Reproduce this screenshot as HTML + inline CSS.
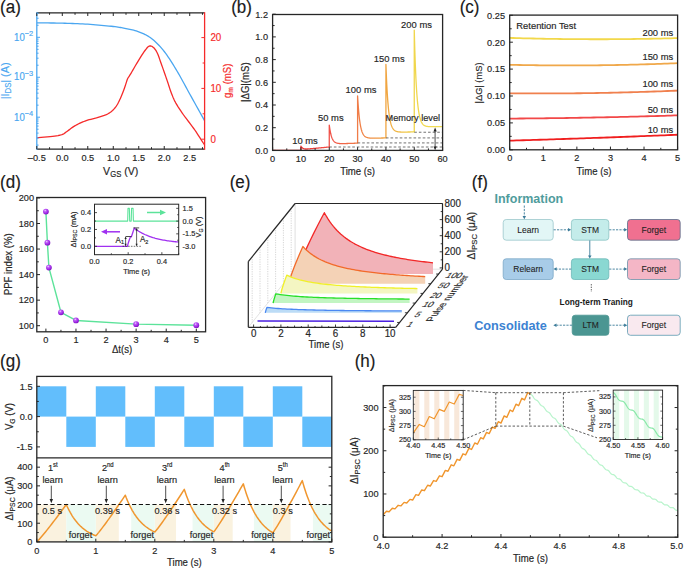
<!DOCTYPE html><html><head><meta charset="utf-8"><style>html,body{margin:0;padding:0;background:#fff;}svg{display:block;}</style></head><body>
<svg width="685" height="569" viewBox="0 0 685 569" font-family="Liberation Sans, sans-serif">
<rect width="685" height="569" fill="#fff"/>
<text x="0" y="0" font-size="17" text-anchor="start" fill="#1a1a1a"  stroke="#1a1a1a" stroke-width="0.16" transform="translate(0.10,12.80) scale(1,1.06)">(a)</text>
<defs><clipPath id="ca"><rect x="36.8" y="12.8" width="167.8" height="136.4"/></clipPath></defs>
<g clip-path="url(#ca)">
<polyline points="36.81,22.80 38.33,22.82 40.28,22.84 42.59,22.87 45.17,22.90 47.96,22.94 50.88,22.98 53.85,23.02 56.80,23.08 59.64,23.13 62.30,23.20 64.85,23.27 67.40,23.34 69.95,23.41 72.49,23.49 75.04,23.58 77.59,23.68 80.14,23.79 82.69,23.91 85.24,24.04 87.78,24.20 90.39,24.38 93.09,24.58 95.83,24.80 98.59,25.04 101.32,25.28 103.99,25.53 106.56,25.78 108.99,26.03 111.24,26.27 113.27,26.50 115.06,26.71 116.63,26.92 118.03,27.11 119.28,27.30 120.44,27.49 121.53,27.69 122.59,27.90 123.67,28.11 124.80,28.35 126.01,28.60 127.29,28.86 128.56,29.11 129.84,29.37 131.11,29.63 132.38,29.91 133.66,30.22 134.93,30.55 136.21,30.92 137.48,31.33 138.75,31.80 140.03,32.30 141.30,32.82 142.58,33.35 143.85,33.93 145.13,34.54 146.40,35.20 147.67,35.92 148.95,36.70 150.22,37.56 151.50,38.50 152.77,39.52 154.05,40.59 155.32,41.73 156.59,42.93 157.87,44.20 159.14,45.53 160.42,46.92 161.69,48.38 162.97,49.91 164.24,51.50 165.51,53.17 166.79,54.93 168.06,56.76 169.34,58.66 170.61,60.62 171.89,62.64 173.16,64.69 174.43,66.77 175.71,68.88 176.98,71.00 178.25,73.14 179.49,75.30 180.72,77.50 181.96,79.73 183.19,82.00 184.44,84.31 185.71,86.66 187.01,89.06 188.35,91.50 189.72,94.00 191.22,96.69 192.86,99.65 194.61,102.79 196.39,106.00 198.17,109.19 199.88,112.26 201.47,115.13 202.90,117.69 204.09,119.84 205.02,121.50" fill="none" stroke="#4aa6f0" stroke-width="1.3" stroke-linejoin="round" />
<polyline points="36.80,137.80 38.59,137.64 41.13,137.42 44.11,137.16 47.22,136.87 50.15,136.58 52.60,136.30 54.59,136.04 56.39,135.79 58.00,135.54 59.46,135.26 60.79,134.96 62.00,134.60 63.02,134.21 63.80,133.80 64.45,133.36 65.07,132.87 65.75,132.32 66.60,131.70 67.63,130.96 68.76,130.11 69.95,129.20 71.18,128.28 72.41,127.39 73.60,126.60 74.77,125.89 75.93,125.23 77.10,124.60 78.27,124.01 79.43,123.44 80.60,122.90 81.73,122.39 82.80,121.93 83.88,121.49 85.01,121.07 86.23,120.64 87.60,120.20 89.17,119.74 90.90,119.29 92.74,118.83 94.60,118.36 96.41,117.89 98.10,117.40 99.70,116.91 101.28,116.41 102.81,115.91 104.27,115.40 105.64,114.86 106.90,114.30 108.03,113.73 109.04,113.15 109.97,112.55 110.83,111.92 111.67,111.24 112.50,110.50 113.32,109.71 114.10,108.89 114.85,108.01 115.58,107.08 116.29,106.08 117.00,105.00 117.70,103.82 118.39,102.56 119.06,101.22 119.72,99.83 120.37,98.42 121.00,97.00 121.62,95.55 122.23,94.06 122.83,92.53 123.40,91.00 123.96,89.48 124.50,88.00 125.02,86.48 125.54,84.91 126.03,83.34 126.50,81.87 126.92,80.56 127.30,79.50 127.60,78.75 127.84,78.27 128.03,77.95 128.22,77.70 128.43,77.42 128.70,77.00 128.98,76.55 129.23,76.16 129.50,75.74 129.85,75.19 130.33,74.41 131.00,73.30 131.89,71.77 132.99,69.87 134.21,67.74 135.49,65.52 136.78,63.33 138.00,61.30 139.20,59.36 140.43,57.38 141.66,55.43 142.85,53.59 143.98,51.92 145.00,50.50 145.90,49.31 146.69,48.30 147.42,47.46 148.11,46.80 148.79,46.31 149.50,46.00 150.24,45.89 150.97,45.99 151.70,46.26 152.42,46.68 153.12,47.20 153.80,47.80 154.46,48.49 155.09,49.29 155.71,50.20 156.32,51.21 156.91,52.31 157.50,53.50 158.07,54.81 158.63,56.26 159.18,57.79 159.72,59.38 160.26,60.96 160.80,62.50 161.33,63.98 161.85,65.43 162.37,66.88 162.89,68.35 163.43,69.88 164.00,71.50 164.60,73.22 165.23,75.02 165.87,76.88 166.52,78.76 167.17,80.64 167.80,82.50 168.42,84.35 169.02,86.23 169.62,88.11 170.23,89.96 170.86,91.77 171.50,93.50 172.13,95.11 172.73,96.62 173.34,98.07 174.01,99.55 174.78,101.10 175.70,102.80 176.77,104.64 177.96,106.59 179.26,108.61 180.64,110.69 182.09,112.83 183.60,115.00 185.20,117.21 186.91,119.46 188.69,121.76 190.50,124.12 192.32,126.53 194.10,129.00 195.97,131.74 197.99,134.78 200.01,137.88 201.88,140.78 203.46,143.24 204.60,145.00" fill="none" stroke="#f52a2a" stroke-width="1.3" stroke-linejoin="round" />
</g>
<line x1="36.80" y1="12.80" x2="204.60" y2="12.80" stroke="#262626" stroke-width="1.3" />
<line x1="36.80" y1="149.20" x2="204.60" y2="149.20" stroke="#262626" stroke-width="1.3" />
<line x1="36.80" y1="12.20" x2="36.80" y2="149.80" stroke="#4aa6f0" stroke-width="1.3" />
<line x1="204.60" y1="12.20" x2="204.60" y2="149.80" stroke="#f52a2a" stroke-width="1.3" />
<line x1="36.81" y1="149.20" x2="36.81" y2="146.00" stroke="#262626" stroke-width="1" />
<line x1="36.81" y1="12.80" x2="36.81" y2="16.00" stroke="#262626" stroke-width="1" />
<text x="0" y="0" font-size="9.2" text-anchor="middle" fill="#262626"  stroke="#262626" stroke-width="0.16" transform="translate(36.81,160.60) scale(1,1.06)">&#8211;0.5</text>
<line x1="49.56" y1="149.20" x2="49.56" y2="147.20" stroke="#262626" stroke-width="1" />
<line x1="49.56" y1="12.80" x2="49.56" y2="14.80" stroke="#262626" stroke-width="1" />
<line x1="62.30" y1="149.20" x2="62.30" y2="146.00" stroke="#262626" stroke-width="1" />
<line x1="62.30" y1="12.80" x2="62.30" y2="16.00" stroke="#262626" stroke-width="1" />
<text x="0" y="0" font-size="9.2" text-anchor="middle" fill="#262626"  stroke="#262626" stroke-width="0.16" transform="translate(62.30,160.60) scale(1,1.06)">0.0</text>
<line x1="75.04" y1="149.20" x2="75.04" y2="147.20" stroke="#262626" stroke-width="1" />
<line x1="75.04" y1="12.80" x2="75.04" y2="14.80" stroke="#262626" stroke-width="1" />
<line x1="87.78" y1="149.20" x2="87.78" y2="146.00" stroke="#262626" stroke-width="1" />
<line x1="87.78" y1="12.80" x2="87.78" y2="16.00" stroke="#262626" stroke-width="1" />
<text x="0" y="0" font-size="9.2" text-anchor="middle" fill="#262626"  stroke="#262626" stroke-width="0.16" transform="translate(87.78,160.60) scale(1,1.06)">0.5</text>
<line x1="100.53" y1="149.20" x2="100.53" y2="147.20" stroke="#262626" stroke-width="1" />
<line x1="100.53" y1="12.80" x2="100.53" y2="14.80" stroke="#262626" stroke-width="1" />
<line x1="113.27" y1="149.20" x2="113.27" y2="146.00" stroke="#262626" stroke-width="1" />
<line x1="113.27" y1="12.80" x2="113.27" y2="16.00" stroke="#262626" stroke-width="1" />
<text x="0" y="0" font-size="9.2" text-anchor="middle" fill="#262626"  stroke="#262626" stroke-width="0.16" transform="translate(113.27,160.60) scale(1,1.06)">1.0</text>
<line x1="126.01" y1="149.20" x2="126.01" y2="147.20" stroke="#262626" stroke-width="1" />
<line x1="126.01" y1="12.80" x2="126.01" y2="14.80" stroke="#262626" stroke-width="1" />
<line x1="138.75" y1="149.20" x2="138.75" y2="146.00" stroke="#262626" stroke-width="1" />
<line x1="138.75" y1="12.80" x2="138.75" y2="16.00" stroke="#262626" stroke-width="1" />
<text x="0" y="0" font-size="9.2" text-anchor="middle" fill="#262626"  stroke="#262626" stroke-width="0.16" transform="translate(138.75,160.60) scale(1,1.06)">1.5</text>
<line x1="151.50" y1="149.20" x2="151.50" y2="147.20" stroke="#262626" stroke-width="1" />
<line x1="151.50" y1="12.80" x2="151.50" y2="14.80" stroke="#262626" stroke-width="1" />
<line x1="164.24" y1="149.20" x2="164.24" y2="146.00" stroke="#262626" stroke-width="1" />
<line x1="164.24" y1="12.80" x2="164.24" y2="16.00" stroke="#262626" stroke-width="1" />
<text x="0" y="0" font-size="9.2" text-anchor="middle" fill="#262626"  stroke="#262626" stroke-width="0.16" transform="translate(164.24,160.60) scale(1,1.06)">2.0</text>
<line x1="176.98" y1="149.20" x2="176.98" y2="147.20" stroke="#262626" stroke-width="1" />
<line x1="176.98" y1="12.80" x2="176.98" y2="14.80" stroke="#262626" stroke-width="1" />
<line x1="189.72" y1="149.20" x2="189.72" y2="146.00" stroke="#262626" stroke-width="1" />
<line x1="189.72" y1="12.80" x2="189.72" y2="16.00" stroke="#262626" stroke-width="1" />
<text x="0" y="0" font-size="9.2" text-anchor="middle" fill="#262626"  stroke="#262626" stroke-width="0.16" transform="translate(189.72,160.60) scale(1,1.06)">2.5</text>
<line x1="202.47" y1="149.20" x2="202.47" y2="147.20" stroke="#262626" stroke-width="1" />
<line x1="202.47" y1="12.80" x2="202.47" y2="14.80" stroke="#262626" stroke-width="1" />
<line x1="36.80" y1="145.12" x2="38.60" y2="145.12" stroke="#4aa6f0" stroke-width="1" />
<line x1="36.80" y1="138.09" x2="38.60" y2="138.09" stroke="#4aa6f0" stroke-width="1" />
<line x1="36.80" y1="133.10" x2="38.60" y2="133.10" stroke="#4aa6f0" stroke-width="1" />
<line x1="36.80" y1="129.23" x2="38.60" y2="129.23" stroke="#4aa6f0" stroke-width="1" />
<line x1="36.80" y1="126.06" x2="38.60" y2="126.06" stroke="#4aa6f0" stroke-width="1" />
<line x1="36.80" y1="123.39" x2="38.60" y2="123.39" stroke="#4aa6f0" stroke-width="1" />
<line x1="36.80" y1="121.07" x2="38.60" y2="121.07" stroke="#4aa6f0" stroke-width="1" />
<line x1="36.80" y1="119.03" x2="38.60" y2="119.03" stroke="#4aa6f0" stroke-width="1" />
<line x1="36.80" y1="117.20" x2="40.00" y2="117.20" stroke="#4aa6f0" stroke-width="1" />
<line x1="36.80" y1="105.17" x2="38.60" y2="105.17" stroke="#4aa6f0" stroke-width="1" />
<line x1="36.80" y1="98.14" x2="38.60" y2="98.14" stroke="#4aa6f0" stroke-width="1" />
<line x1="36.80" y1="93.15" x2="38.60" y2="93.15" stroke="#4aa6f0" stroke-width="1" />
<line x1="36.80" y1="89.28" x2="38.60" y2="89.28" stroke="#4aa6f0" stroke-width="1" />
<line x1="36.80" y1="86.11" x2="38.60" y2="86.11" stroke="#4aa6f0" stroke-width="1" />
<line x1="36.80" y1="83.44" x2="38.60" y2="83.44" stroke="#4aa6f0" stroke-width="1" />
<line x1="36.80" y1="81.12" x2="38.60" y2="81.12" stroke="#4aa6f0" stroke-width="1" />
<line x1="36.80" y1="79.08" x2="38.60" y2="79.08" stroke="#4aa6f0" stroke-width="1" />
<line x1="36.80" y1="77.25" x2="40.00" y2="77.25" stroke="#4aa6f0" stroke-width="1" />
<line x1="36.80" y1="65.22" x2="38.60" y2="65.22" stroke="#4aa6f0" stroke-width="1" />
<line x1="36.80" y1="58.19" x2="38.60" y2="58.19" stroke="#4aa6f0" stroke-width="1" />
<line x1="36.80" y1="53.20" x2="38.60" y2="53.20" stroke="#4aa6f0" stroke-width="1" />
<line x1="36.80" y1="49.33" x2="38.60" y2="49.33" stroke="#4aa6f0" stroke-width="1" />
<line x1="36.80" y1="46.16" x2="38.60" y2="46.16" stroke="#4aa6f0" stroke-width="1" />
<line x1="36.80" y1="43.49" x2="38.60" y2="43.49" stroke="#4aa6f0" stroke-width="1" />
<line x1="36.80" y1="41.17" x2="38.60" y2="41.17" stroke="#4aa6f0" stroke-width="1" />
<line x1="36.80" y1="39.13" x2="38.60" y2="39.13" stroke="#4aa6f0" stroke-width="1" />
<line x1="36.80" y1="37.30" x2="40.00" y2="37.30" stroke="#4aa6f0" stroke-width="1" />
<line x1="36.80" y1="25.27" x2="38.60" y2="25.27" stroke="#4aa6f0" stroke-width="1" />
<line x1="36.80" y1="18.24" x2="38.60" y2="18.24" stroke="#4aa6f0" stroke-width="1" />
<line x1="36.80" y1="13.25" x2="38.60" y2="13.25" stroke="#4aa6f0" stroke-width="1" />
<text x="0" y="0" font-size="9.6" text-anchor="end" fill="#4aa6f0" stroke="#4aa6f0" stroke-width="0.16" transform="translate(33.2,40.50) scale(1,1.06)">10<tspan dy="-3.8" font-size="7.4">&#8722;2</tspan></text>
<text x="0" y="0" font-size="9.6" text-anchor="end" fill="#4aa6f0" stroke="#4aa6f0" stroke-width="0.16" transform="translate(33.2,80.30) scale(1,1.06)">10<tspan dy="-3.8" font-size="7.4">&#8722;3</tspan></text>
<text x="0" y="0" font-size="9.6" text-anchor="end" fill="#4aa6f0" stroke="#4aa6f0" stroke-width="0.16" transform="translate(33.2,120.50) scale(1,1.06)">10<tspan dy="-3.8" font-size="7.4">&#8722;4</tspan></text>
<line x1="204.60" y1="139.20" x2="201.40" y2="139.20" stroke="#f52a2a" stroke-width="1" />
<line x1="204.60" y1="113.80" x2="202.60" y2="113.80" stroke="#f52a2a" stroke-width="1" />
<line x1="204.60" y1="88.40" x2="201.40" y2="88.40" stroke="#f52a2a" stroke-width="1" />
<line x1="204.60" y1="63.00" x2="202.60" y2="63.00" stroke="#f52a2a" stroke-width="1" />
<line x1="204.60" y1="37.60" x2="201.40" y2="37.60" stroke="#f52a2a" stroke-width="1" />
<text x="0" y="0" font-size="9.8" text-anchor="start" fill="#f52a2a"  stroke="#f52a2a" stroke-width="0.16" transform="translate(210.40,142.60) scale(1,1.06)">0</text>
<text x="0" y="0" font-size="9.8" text-anchor="start" fill="#f52a2a"  stroke="#f52a2a" stroke-width="0.16" transform="translate(210.40,91.80) scale(1,1.06)">10</text>
<text x="0" y="0" font-size="9.8" text-anchor="start" fill="#f52a2a"  stroke="#f52a2a" stroke-width="0.16" transform="translate(210.40,41.00) scale(1,1.06)">20</text>
<text x="0" y="0" font-size="10.6" fill="#262626" text-anchor="middle" transform="translate(120.7,174.8) scale(1,1.06)" stroke="#262626" stroke-width="0.16">V<tspan font-size="7.7" dy="1.9">GS</tspan><tspan dy="-1.9"> (V)</tspan></text>
<text x="0" y="0" font-size="10.8" fill="#4aa6f0" text-anchor="middle" transform="translate(9.3,80.9) rotate(-90) scale(1,1.06)" stroke="#4aa6f0" stroke-width="0.16">|I<tspan font-size="7.8" dy="1.9">DS</tspan><tspan dy="-1.9">| (A)</tspan></text>
<text x="0" y="0" font-size="9.6" fill="#f52a2a" text-anchor="middle" transform="translate(230.9,80.8) rotate(-90) scale(1,1.06)" stroke="#f52a2a" stroke-width="0.16">g<tspan font-size="6.8" dy="1.8">m</tspan><tspan dy="-1.8"> (mS)</tspan></text>
<text x="0" y="0" font-size="17" text-anchor="start" fill="#1a1a1a"  stroke="#1a1a1a" stroke-width="0.16" transform="translate(231.20,13.00) scale(1,1.06)">(b)</text>
<defs><linearGradient id="gb" gradientUnits="userSpaceOnUse" x1="300.9" y1="0" x2="442.6" y2="0"><stop offset="0" stop-color="#f03030"/><stop offset="0.2" stop-color="#f05048"/><stop offset="0.4" stop-color="#f07c48"/><stop offset="0.6" stop-color="#f0a440"/><stop offset="0.8" stop-color="#f0d64c"/><stop offset="1" stop-color="#f2e05a"/></linearGradient></defs>
<polyline points="272.60,150.40 300.93,150.40 300.93,146.09 301.41,146.86 301.88,147.44 302.35,147.88 302.82,148.22 303.29,148.47 303.77,148.66 304.24,148.81 304.71,148.92 305.18,149.00 305.66,149.02 306.13,149.03 306.60,149.02 307.07,149.00 307.54,148.98 308.02,148.95 308.49,148.92 308.96,148.88 309.43,148.84 309.91,148.80 310.38,148.76 310.85,148.72 311.32,148.68 311.79,148.64 312.27,148.59 312.74,148.55 313.21,148.51 313.68,148.46 314.16,148.42 314.63,148.37 315.10,148.33 315.57,148.29 316.04,148.24 316.52,148.20 316.99,148.15 317.46,148.11 317.93,148.06 318.41,148.02 318.88,147.97 319.35,147.93 319.82,147.89 320.29,147.84 320.77,147.80 321.24,147.75 321.71,147.71 322.18,147.66 322.65,147.62 323.13,147.57 323.60,147.53 324.07,147.48 324.54,147.44 325.02,147.40 325.49,147.35 325.96,147.31 326.43,147.26 326.90,147.22 327.38,147.17 327.85,147.13 328.32,147.08 328.79,147.04 329.27,147.00 329.27,125.09 329.55,127.20 329.83,129.07 330.12,130.73 330.40,132.21 330.68,133.52 330.97,134.68 331.25,135.72 331.53,136.64 331.82,137.45 332.10,138.18 332.38,138.82 332.67,139.39 332.95,139.89 333.23,140.34 333.52,140.74 333.80,141.09 334.08,141.40 334.37,141.68 334.65,141.92 334.93,142.14 335.22,142.33 335.50,142.50 335.78,142.65 336.07,142.78 336.35,142.90 336.63,143.00 336.92,143.09 337.20,143.16 337.48,143.23 337.77,143.29 338.05,143.34 338.33,143.39 338.62,143.43 338.90,143.46 339.18,143.49 339.47,143.51 339.75,143.53 340.03,143.55 340.32,143.57 340.60,143.58 340.88,143.59 341.17,143.59 341.45,143.60 341.73,143.60 342.02,143.60 342.30,143.60 342.58,143.60 342.87,143.60 343.15,143.60 343.43,143.59 343.72,143.59 344.00,143.58 344.28,143.58 344.57,143.57 344.85,143.57 345.13,143.56 345.42,143.55 345.70,143.54 345.98,143.54 346.27,143.53 346.55,143.52 346.83,143.51 347.12,143.50 347.40,143.49 347.68,143.48 347.97,143.48 348.25,143.47 348.53,143.46 348.82,143.45 349.10,143.44 349.38,143.43 349.67,143.42 349.95,143.41 350.23,143.40 350.52,143.39 350.80,143.38 351.08,143.37 351.37,143.36 351.65,143.35 351.93,143.34 352.22,143.33 352.50,143.32 352.78,143.31 353.07,143.30 353.35,143.29 353.63,143.28 353.92,143.27 354.20,143.26 354.48,143.25 354.77,143.24 355.05,143.23 355.33,143.22 355.62,143.21 355.90,143.20 356.18,143.19 356.47,143.18 356.75,143.17 357.03,143.16 357.32,143.15 357.60,143.14 357.60,143.14 357.60,95.92 357.88,100.65 358.17,104.85 358.45,108.59 358.73,111.91 359.02,114.86 359.30,117.49 359.58,119.82 359.87,121.89 360.15,123.73 360.43,125.37 360.72,126.82 361.00,128.11 361.28,129.26 361.57,130.28 361.85,131.19 362.13,131.99 362.42,132.70 362.70,133.34 362.98,133.90 363.27,134.40 363.55,134.85 363.83,135.24 364.12,135.59 364.40,135.90 364.68,136.17 364.97,136.42 365.25,136.63 365.53,136.82 365.82,136.99 366.10,137.14 366.38,137.27 366.67,137.39 366.95,137.49 367.23,137.58 367.52,137.66 367.80,137.73 368.08,137.79 368.37,137.85 368.65,137.90 368.93,137.94 369.22,137.97 369.50,138.01 369.78,138.03 370.07,138.06 370.35,138.08 370.63,138.09 370.92,138.11 371.20,138.12 371.48,138.13 371.77,138.14 372.05,138.14 372.33,138.15 372.62,138.15 372.90,138.15 373.18,138.16 373.47,138.16 373.75,138.16 374.03,138.15 374.32,138.15 374.60,138.15 374.88,138.15 375.17,138.14 375.45,138.14 375.73,138.14 376.02,138.13 376.30,138.13 376.58,138.12 376.87,138.12 377.15,138.11 377.43,138.11 377.72,138.10 378.00,138.10 378.28,138.09 378.57,138.08 378.85,138.08 379.13,138.07 379.42,138.07 379.70,138.06 379.98,138.05 380.27,138.05 380.55,138.04 380.83,138.03 381.12,138.03 381.40,138.02 381.68,138.02 381.97,138.01 382.25,138.00 382.53,138.00 382.82,137.99 383.10,137.98 383.38,137.98 383.67,137.97 383.95,137.96 384.23,137.96 384.52,137.95 384.80,137.94 385.08,137.93 385.37,137.93 385.65,137.92 385.93,137.91 385.93,137.92 385.93,64.48 386.22,72.02 386.50,78.72 386.78,84.68 387.07,89.98 387.35,94.69 387.63,98.87 387.92,102.59 388.20,105.90 388.48,108.83 388.77,111.45 389.05,113.77 389.33,115.83 389.62,117.66 389.90,119.29 390.18,120.74 390.47,122.03 390.75,123.17 391.03,124.19 391.32,125.09 391.60,125.89 391.88,126.60 392.17,127.23 392.45,127.79 392.73,128.29 393.02,128.74 393.30,129.13 393.58,129.48 393.87,129.79 394.15,130.06 394.43,130.30 394.72,130.52 395.00,130.71 395.28,130.88 395.57,131.03 395.85,131.16 396.13,131.28 396.42,131.38 396.70,131.47 396.98,131.55 397.27,131.63 397.55,131.69 397.83,131.74 398.12,131.79 398.40,131.83 398.68,131.87 398.97,131.90 399.25,131.93 399.53,131.95 399.82,131.98 400.10,131.99 400.38,132.01 400.67,132.02 400.95,132.03 401.23,132.04 401.52,132.05 401.80,132.06 402.08,132.06 402.37,132.06 402.65,132.07 402.93,132.07 403.22,132.07 403.50,132.07 403.78,132.07 404.07,132.07 404.35,132.07 404.63,132.06 404.92,132.06 405.20,132.06 405.48,132.06 405.77,132.05 406.05,132.05 406.33,132.04 406.62,132.04 406.90,132.04 407.18,132.03 407.47,132.03 407.75,132.02 408.03,132.02 408.32,132.01 408.60,132.01 408.88,132.00 409.17,132.00 409.45,131.99 409.73,131.99 410.02,131.98 410.30,131.98 410.58,131.97 410.87,131.97 411.15,131.96 411.43,131.95 411.72,131.95 412.00,131.94 412.28,131.94 412.57,131.93 412.85,131.93 413.13,131.92 413.42,131.92 413.70,131.91 413.98,131.90 414.26,131.90 414.26,131.90 414.26,30.09 414.55,40.86 414.83,50.42 415.11,58.93 415.40,66.49 415.68,73.22 415.96,79.19 416.25,84.50 416.53,89.22 416.81,93.42 417.10,97.15 417.38,100.47 417.66,103.41 417.95,106.03 418.23,108.36 418.51,110.43 418.80,112.27 419.08,113.90 419.36,115.35 419.65,116.64 419.93,117.79 420.21,118.81 420.50,119.71 420.78,120.52 421.06,121.23 421.35,121.87 421.63,122.43 421.91,122.93 422.20,123.37 422.48,123.77 422.76,124.12 423.05,124.43 423.33,124.70 423.61,124.95 423.90,125.16 424.18,125.35 424.46,125.52 424.75,125.67 425.03,125.81 425.31,125.92 425.60,126.03 425.88,126.12 426.16,126.20 426.45,126.27 426.73,126.33 427.01,126.39 427.30,126.44 427.58,126.48 427.86,126.52 428.15,126.55 428.43,126.58 428.71,126.60 429.00,126.62 429.28,126.64 429.56,126.66 429.85,126.67 430.13,126.68 430.41,126.69 430.70,126.70 430.98,126.70 431.26,126.71 431.55,126.71 431.83,126.71 432.11,126.72 432.40,126.72 432.68,126.72 432.96,126.72 433.25,126.72 433.53,126.71 433.81,126.71 434.10,126.71 434.38,126.71 434.66,126.70 434.95,126.70 435.23,126.70 435.51,126.69 435.80,126.69 436.08,126.68 436.36,126.68 436.65,126.68 436.93,126.67 437.21,126.67 437.50,126.66 437.78,126.66 438.06,126.65 438.35,126.65 438.63,126.64 438.91,126.64 439.20,126.63 439.48,126.62 439.76,126.62 440.05,126.61 440.33,126.61 440.61,126.60 440.90,126.60 441.18,126.59 441.46,126.59 441.75,126.58 442.03,126.58 442.31,126.57 442.60,126.56" fill="none" stroke="url(#gb)" stroke-width="1.3" stroke-linejoin="round" />
<line x1="329.27" y1="147.00" x2="442.60" y2="147.00" stroke="#444" stroke-width="0.75" stroke-dasharray="2.6,2"/>
<line x1="357.60" y1="142.91" x2="442.60" y2="142.91" stroke="#444" stroke-width="0.75" stroke-dasharray="2.6,2"/>
<line x1="385.93" y1="137.92" x2="442.60" y2="137.92" stroke="#444" stroke-width="0.75" stroke-dasharray="2.6,2"/>
<line x1="414.26" y1="132.24" x2="442.60" y2="132.24" stroke="#444" stroke-width="0.75" stroke-dasharray="2.6,2"/>
<line x1="435.10" y1="130.50" x2="435.10" y2="148.00" stroke="#222" stroke-width="0.8" />
<polygon points="435.10,127.60 433.50,131.50 436.70,131.50" fill="#222" stroke="none" stroke-width="1" />
<polygon points="435.10,150.30 433.50,146.40 436.70,146.40" fill="#222" stroke="none" stroke-width="1" />
<rect x="272.6" y="14.5" width="170.0" height="135.9" fill="none" stroke="#262626" stroke-width="1.3"/>
<line x1="272.60" y1="150.40" x2="275.80" y2="150.40" stroke="#262626" stroke-width="1" />
<text x="0" y="0" font-size="9.2" text-anchor="end" fill="#262626"  stroke="#262626" stroke-width="0.16" transform="translate(268.00,153.70) scale(1,1.06)">0.0</text>
<line x1="272.60" y1="139.05" x2="274.60" y2="139.05" stroke="#262626" stroke-width="1" />
<line x1="272.60" y1="127.70" x2="275.80" y2="127.70" stroke="#262626" stroke-width="1" />
<text x="0" y="0" font-size="9.2" text-anchor="end" fill="#262626"  stroke="#262626" stroke-width="0.16" transform="translate(268.00,131.00) scale(1,1.06)">0.2</text>
<line x1="272.60" y1="116.35" x2="274.60" y2="116.35" stroke="#262626" stroke-width="1" />
<line x1="272.60" y1="105.00" x2="275.80" y2="105.00" stroke="#262626" stroke-width="1" />
<text x="0" y="0" font-size="9.2" text-anchor="end" fill="#262626"  stroke="#262626" stroke-width="0.16" transform="translate(268.00,108.30) scale(1,1.06)">0.4</text>
<line x1="272.60" y1="93.65" x2="274.60" y2="93.65" stroke="#262626" stroke-width="1" />
<line x1="272.60" y1="82.30" x2="275.80" y2="82.30" stroke="#262626" stroke-width="1" />
<text x="0" y="0" font-size="9.2" text-anchor="end" fill="#262626"  stroke="#262626" stroke-width="0.16" transform="translate(268.00,85.60) scale(1,1.06)">0.6</text>
<line x1="272.60" y1="70.95" x2="274.60" y2="70.95" stroke="#262626" stroke-width="1" />
<line x1="272.60" y1="59.60" x2="275.80" y2="59.60" stroke="#262626" stroke-width="1" />
<text x="0" y="0" font-size="9.2" text-anchor="end" fill="#262626"  stroke="#262626" stroke-width="0.16" transform="translate(268.00,62.90) scale(1,1.06)">0.8</text>
<line x1="272.60" y1="48.25" x2="274.60" y2="48.25" stroke="#262626" stroke-width="1" />
<line x1="272.60" y1="36.90" x2="275.80" y2="36.90" stroke="#262626" stroke-width="1" />
<text x="0" y="0" font-size="9.2" text-anchor="end" fill="#262626"  stroke="#262626" stroke-width="0.16" transform="translate(268.00,40.20) scale(1,1.06)">1.0</text>
<line x1="272.60" y1="25.55" x2="274.60" y2="25.55" stroke="#262626" stroke-width="1" />
<line x1="272.60" y1="14.20" x2="275.80" y2="14.20" stroke="#262626" stroke-width="1" />
<text x="0" y="0" font-size="9.2" text-anchor="end" fill="#262626"  stroke="#262626" stroke-width="0.16" transform="translate(268.00,17.50) scale(1,1.06)">1.2</text>
<line x1="272.60" y1="150.40" x2="272.60" y2="147.20" stroke="#262626" stroke-width="1" />
<text x="0" y="0" font-size="9.2" text-anchor="middle" fill="#262626"  stroke="#262626" stroke-width="0.16" transform="translate(272.60,161.90) scale(1,1.06)">0</text>
<line x1="286.77" y1="150.40" x2="286.77" y2="148.40" stroke="#262626" stroke-width="1" />
<line x1="300.93" y1="150.40" x2="300.93" y2="147.20" stroke="#262626" stroke-width="1" />
<text x="0" y="0" font-size="9.2" text-anchor="middle" fill="#262626"  stroke="#262626" stroke-width="0.16" transform="translate(300.93,161.90) scale(1,1.06)">10</text>
<line x1="315.10" y1="150.40" x2="315.10" y2="148.40" stroke="#262626" stroke-width="1" />
<line x1="329.27" y1="150.40" x2="329.27" y2="147.20" stroke="#262626" stroke-width="1" />
<text x="0" y="0" font-size="9.2" text-anchor="middle" fill="#262626"  stroke="#262626" stroke-width="0.16" transform="translate(329.27,161.90) scale(1,1.06)">20</text>
<line x1="343.43" y1="150.40" x2="343.43" y2="148.40" stroke="#262626" stroke-width="1" />
<line x1="357.60" y1="150.40" x2="357.60" y2="147.20" stroke="#262626" stroke-width="1" />
<text x="0" y="0" font-size="9.2" text-anchor="middle" fill="#262626"  stroke="#262626" stroke-width="0.16" transform="translate(357.60,161.90) scale(1,1.06)">30</text>
<line x1="371.77" y1="150.40" x2="371.77" y2="148.40" stroke="#262626" stroke-width="1" />
<line x1="385.93" y1="150.40" x2="385.93" y2="147.20" stroke="#262626" stroke-width="1" />
<text x="0" y="0" font-size="9.2" text-anchor="middle" fill="#262626"  stroke="#262626" stroke-width="0.16" transform="translate(385.93,161.90) scale(1,1.06)">40</text>
<line x1="400.10" y1="150.40" x2="400.10" y2="148.40" stroke="#262626" stroke-width="1" />
<line x1="414.26" y1="150.40" x2="414.26" y2="147.20" stroke="#262626" stroke-width="1" />
<text x="0" y="0" font-size="9.2" text-anchor="middle" fill="#262626"  stroke="#262626" stroke-width="0.16" transform="translate(414.26,161.90) scale(1,1.06)">50</text>
<line x1="428.43" y1="150.40" x2="428.43" y2="148.40" stroke="#262626" stroke-width="1" />
<line x1="442.60" y1="150.40" x2="442.60" y2="147.20" stroke="#262626" stroke-width="1" />
<text x="0" y="0" font-size="9.2" text-anchor="middle" fill="#262626"  stroke="#262626" stroke-width="0.16" transform="translate(442.60,161.90) scale(1,1.06)">60</text>
<text x="0" y="0" font-size="9.6" text-anchor="middle" fill="#262626"  stroke="#262626" stroke-width="0.16" transform="translate(357.60,175.40) scale(1,1.06)">Time (s)</text>
<text font-size="9.6" fill="#262626" text-anchor="middle" transform="translate(249.2,82.2) rotate(-90) scale(1,1.06)" stroke="#262626" stroke-width="0.16">|&#916;G|(mS)</text>
<text x="0" y="0" font-size="9.4" text-anchor="middle" fill="#262626"  stroke="#262626" stroke-width="0.16" transform="translate(305.00,143.60) scale(1,1.06)">10 ms</text>
<text x="0" y="0" font-size="9.4" text-anchor="middle" fill="#262626"  stroke="#262626" stroke-width="0.16" transform="translate(330.80,121.40) scale(1,1.06)">50 ms</text>
<text x="0" y="0" font-size="9.4" text-anchor="middle" fill="#262626"  stroke="#262626" stroke-width="0.16" transform="translate(361.00,93.40) scale(1,1.06)">100 ms</text>
<text x="0" y="0" font-size="9.4" text-anchor="middle" fill="#262626"  stroke="#262626" stroke-width="0.16" transform="translate(389.20,62.00) scale(1,1.06)">150 ms</text>
<text x="0" y="0" font-size="9.4" text-anchor="middle" fill="#262626"  stroke="#262626" stroke-width="0.16" transform="translate(416.50,28.40) scale(1,1.06)">200 ms</text>
<text x="0" y="0" font-size="9.2" text-anchor="middle" fill="#262626"  stroke="#262626" stroke-width="0.16" transform="translate(412.80,120.80) scale(1,1.06)">Memory level</text>
<text x="0" y="0" font-size="17" text-anchor="start" fill="#1a1a1a"  stroke="#1a1a1a" stroke-width="0.16" transform="translate(459.70,13.00) scale(1,1.06)">(c)</text>
<polyline points="509.70,37.90 513.06,38.00 516.42,38.09 519.77,38.19 523.13,38.28 526.49,38.36 529.85,38.44 533.21,38.52 536.56,38.60 539.92,38.67 543.28,38.73 546.64,38.79 550.00,38.85 553.35,38.90 556.71,38.95 560.07,39.00 563.43,39.04 566.79,39.08 570.14,39.11 573.50,39.14 576.86,39.17 580.22,39.19 583.58,39.21 586.93,39.22 590.29,39.23 593.65,39.24 597.01,39.24 600.37,39.24 603.72,39.24 607.08,39.23 610.44,39.21 613.80,39.20 617.16,39.17 620.51,39.15 623.87,39.12 627.23,39.09 630.59,39.05 633.95,39.01 637.30,38.96 640.66,38.91 644.02,38.86 647.38,38.80 650.74,38.74 654.09,38.68 657.45,38.61 660.81,38.54 664.17,38.46 667.53,38.38 670.88,38.29 674.24,38.20 677.60,38.11" fill="none" stroke="#f2d84a" stroke-width="1.8" stroke-linejoin="round" />
<polyline points="509.70,64.80 513.06,64.87 516.42,64.94 519.77,65.00 523.13,65.06 526.49,65.12 529.85,65.17 533.21,65.22 536.56,65.26 539.92,65.30 543.28,65.33 546.64,65.36 550.00,65.39 553.35,65.41 556.71,65.43 560.07,65.44 563.43,65.45 566.79,65.45 570.14,65.45 573.50,65.45 576.86,65.44 580.22,65.43 583.58,65.41 586.93,65.39 590.29,65.36 593.65,65.33 597.01,65.30 600.37,65.26 603.72,65.22 607.08,65.17 610.44,65.12 613.80,65.06 617.16,65.00 620.51,64.94 623.87,64.87 627.23,64.80 630.59,64.72 633.95,64.64 637.30,64.55 640.66,64.46 644.02,64.37 647.38,64.27 650.74,64.16 654.09,64.06 657.45,63.94 660.81,63.83 664.17,63.71 667.53,63.58 670.88,63.45 674.24,63.32 677.60,63.18" fill="none" stroke="#f0a84a" stroke-width="1.8" stroke-linejoin="round" />
<polyline points="509.70,93.31 513.06,93.34 516.42,93.37 519.77,93.39 523.13,93.41 526.49,93.43 529.85,93.44 533.21,93.45 536.56,93.46 539.92,93.46 543.28,93.46 546.64,93.46 550.00,93.45 553.35,93.44 556.71,93.42 560.07,93.41 563.43,93.39 566.79,93.36 570.14,93.33 573.50,93.30 576.86,93.27 580.22,93.23 583.58,93.19 586.93,93.14 590.29,93.09 593.65,93.04 597.01,92.99 600.37,92.93 603.72,92.86 607.08,92.80 610.44,92.73 613.80,92.66 617.16,92.58 620.51,92.50 623.87,92.42 627.23,92.33 630.59,92.24 633.95,92.15 637.30,92.05 640.66,91.95 644.02,91.85 647.38,91.74 650.74,91.63 654.09,91.51 657.45,91.40 660.81,91.28 664.17,91.15 667.53,91.02 670.88,90.89 674.24,90.76 677.60,90.62" fill="none" stroke="#f0804e" stroke-width="1.8" stroke-linejoin="round" />
<polyline points="509.70,118.60 513.06,118.57 516.42,118.55 519.77,118.52 523.13,118.50 526.49,118.47 529.85,118.44 533.21,118.40 536.56,118.37 539.92,118.33 543.28,118.29 546.64,118.26 550.00,118.21 553.35,118.17 556.71,118.13 560.07,118.08 563.43,118.03 566.79,117.98 570.14,117.93 573.50,117.88 576.86,117.82 580.22,117.76 583.58,117.71 586.93,117.65 590.29,117.58 593.65,117.52 597.01,117.45 600.37,117.39 603.72,117.32 607.08,117.25 610.44,117.18 613.80,117.10 617.16,117.03 620.51,116.95 623.87,116.87 627.23,116.79 630.59,116.71 633.95,116.62 637.30,116.54 640.66,116.45 644.02,116.36 647.38,116.27 650.74,116.17 654.09,116.08 657.45,115.98 660.81,115.88 664.17,115.78 667.53,115.68 670.88,115.58 674.24,115.47 677.60,115.37" fill="none" stroke="#f24848" stroke-width="1.8" stroke-linejoin="round" />
<polyline points="509.70,140.65 513.06,140.56 516.42,140.46 519.77,140.36 523.13,140.26 526.49,140.16 529.85,140.06 533.21,139.96 536.56,139.85 539.92,139.75 543.28,139.64 546.64,139.54 550.00,139.43 553.35,139.32 556.71,139.21 560.07,139.10 563.43,138.99 566.79,138.88 570.14,138.77 573.50,138.66 576.86,138.55 580.22,138.43 583.58,138.32 586.93,138.20 590.29,138.08 593.65,137.96 597.01,137.85 600.37,137.73 603.72,137.61 607.08,137.48 610.44,137.36 613.80,137.24 617.16,137.11 620.51,136.99 623.87,136.86 627.23,136.74 630.59,136.61 633.95,136.48 637.30,136.35 640.66,136.22 644.02,136.09 647.38,135.96 650.74,135.83 654.09,135.69 657.45,135.56 660.81,135.42 664.17,135.29 667.53,135.15 670.88,135.01 674.24,134.88 677.60,134.74" fill="none" stroke="#f01e1e" stroke-width="1.8" stroke-linejoin="round" />
<rect x="509.7" y="15.1" width="167.90000000000003" height="134.70000000000002" fill="none" stroke="#262626" stroke-width="1.3"/>
<line x1="509.70" y1="149.80" x2="512.90" y2="149.80" stroke="#262626" stroke-width="1" />
<text x="0" y="0" font-size="9.2" text-anchor="end" fill="#262626"  stroke="#262626" stroke-width="0.16" transform="translate(505.00,153.10) scale(1,1.06)">0.00</text>
<line x1="509.70" y1="136.35" x2="511.70" y2="136.35" stroke="#262626" stroke-width="1" />
<line x1="509.70" y1="122.90" x2="512.90" y2="122.90" stroke="#262626" stroke-width="1" />
<text x="0" y="0" font-size="9.2" text-anchor="end" fill="#262626"  stroke="#262626" stroke-width="0.16" transform="translate(505.00,126.20) scale(1,1.06)">0.05</text>
<line x1="509.70" y1="109.45" x2="511.70" y2="109.45" stroke="#262626" stroke-width="1" />
<line x1="509.70" y1="96.00" x2="512.90" y2="96.00" stroke="#262626" stroke-width="1" />
<text x="0" y="0" font-size="9.2" text-anchor="end" fill="#262626"  stroke="#262626" stroke-width="0.16" transform="translate(505.00,99.30) scale(1,1.06)">0.10</text>
<line x1="509.70" y1="82.55" x2="511.70" y2="82.55" stroke="#262626" stroke-width="1" />
<line x1="509.70" y1="69.10" x2="512.90" y2="69.10" stroke="#262626" stroke-width="1" />
<text x="0" y="0" font-size="9.2" text-anchor="end" fill="#262626"  stroke="#262626" stroke-width="0.16" transform="translate(505.00,72.40) scale(1,1.06)">0.15</text>
<line x1="509.70" y1="55.65" x2="511.70" y2="55.65" stroke="#262626" stroke-width="1" />
<line x1="509.70" y1="42.20" x2="512.90" y2="42.20" stroke="#262626" stroke-width="1" />
<text x="0" y="0" font-size="9.2" text-anchor="end" fill="#262626"  stroke="#262626" stroke-width="0.16" transform="translate(505.00,45.50) scale(1,1.06)">0.20</text>
<line x1="509.70" y1="28.75" x2="511.70" y2="28.75" stroke="#262626" stroke-width="1" />
<line x1="509.70" y1="15.30" x2="512.90" y2="15.30" stroke="#262626" stroke-width="1" />
<text x="0" y="0" font-size="9.2" text-anchor="end" fill="#262626"  stroke="#262626" stroke-width="0.16" transform="translate(505.00,18.60) scale(1,1.06)">0.25</text>
<line x1="509.70" y1="149.80" x2="509.70" y2="146.60" stroke="#262626" stroke-width="1" />
<text x="0" y="0" font-size="9.2" text-anchor="middle" fill="#262626"  stroke="#262626" stroke-width="0.16" transform="translate(509.70,161.40) scale(1,1.06)">0</text>
<line x1="526.49" y1="149.80" x2="526.49" y2="147.80" stroke="#262626" stroke-width="1" />
<line x1="543.28" y1="149.80" x2="543.28" y2="146.60" stroke="#262626" stroke-width="1" />
<text x="0" y="0" font-size="9.2" text-anchor="middle" fill="#262626"  stroke="#262626" stroke-width="0.16" transform="translate(543.28,161.40) scale(1,1.06)">1</text>
<line x1="560.07" y1="149.80" x2="560.07" y2="147.80" stroke="#262626" stroke-width="1" />
<line x1="576.86" y1="149.80" x2="576.86" y2="146.60" stroke="#262626" stroke-width="1" />
<text x="0" y="0" font-size="9.2" text-anchor="middle" fill="#262626"  stroke="#262626" stroke-width="0.16" transform="translate(576.86,161.40) scale(1,1.06)">2</text>
<line x1="593.65" y1="149.80" x2="593.65" y2="147.80" stroke="#262626" stroke-width="1" />
<line x1="610.44" y1="149.80" x2="610.44" y2="146.60" stroke="#262626" stroke-width="1" />
<text x="0" y="0" font-size="9.2" text-anchor="middle" fill="#262626"  stroke="#262626" stroke-width="0.16" transform="translate(610.44,161.40) scale(1,1.06)">3</text>
<line x1="627.23" y1="149.80" x2="627.23" y2="147.80" stroke="#262626" stroke-width="1" />
<line x1="644.02" y1="149.80" x2="644.02" y2="146.60" stroke="#262626" stroke-width="1" />
<text x="0" y="0" font-size="9.2" text-anchor="middle" fill="#262626"  stroke="#262626" stroke-width="0.16" transform="translate(644.02,161.40) scale(1,1.06)">4</text>
<line x1="660.81" y1="149.80" x2="660.81" y2="147.80" stroke="#262626" stroke-width="1" />
<line x1="677.60" y1="149.80" x2="677.60" y2="146.60" stroke="#262626" stroke-width="1" />
<text x="0" y="0" font-size="9.2" text-anchor="middle" fill="#262626"  stroke="#262626" stroke-width="0.16" transform="translate(677.60,161.40) scale(1,1.06)">5</text>
<text x="0" y="0" font-size="9.6" text-anchor="middle" fill="#262626"  stroke="#262626" stroke-width="0.16" transform="translate(594.00,175.20) scale(1,1.06)">Time (s)</text>
<text font-size="9.3" fill="#262626" text-anchor="middle" transform="translate(481.5,83.0) rotate(-90) scale(1,1.06)" stroke="#262626" stroke-width="0.16">|&#916;G| (mS)</text>
<text x="0" y="0" font-size="9.4" text-anchor="start" fill="#262626"  stroke="#262626" stroke-width="0.16" transform="translate(516.30,28.90) scale(1,1.06)">Retention Test</text>
<text x="0" y="0" font-size="9.4" text-anchor="end" fill="#262626"  stroke="#262626" stroke-width="0.16" transform="translate(673.20,35.60) scale(1,1.06)">200 ms</text>
<text x="0" y="0" font-size="9.4" text-anchor="end" fill="#262626"  stroke="#262626" stroke-width="0.16" transform="translate(673.20,60.40) scale(1,1.06)">150 ms</text>
<text x="0" y="0" font-size="9.4" text-anchor="end" fill="#262626"  stroke="#262626" stroke-width="0.16" transform="translate(673.20,87.40) scale(1,1.06)">100 ms</text>
<text x="0" y="0" font-size="9.4" text-anchor="end" fill="#262626"  stroke="#262626" stroke-width="0.16" transform="translate(673.20,113.00) scale(1,1.06)">50 ms</text>
<text x="0" y="0" font-size="9.4" text-anchor="end" fill="#262626"  stroke="#262626" stroke-width="0.16" transform="translate(673.20,132.70) scale(1,1.06)">10 ms</text>
<text x="0" y="0" font-size="17" text-anchor="start" fill="#1a1a1a"  stroke="#1a1a1a" stroke-width="0.16" transform="translate(0.10,187.90) scale(1,1.06)">(d)</text>
<polyline points="45.90,211.62 47.40,242.66 48.91,267.57 60.94,312.29 75.98,320.46 136.14,324.17 196.30,325.19" fill="none" stroke="#5ce39a" stroke-width="1.4" stroke-linejoin="round" />
<defs><radialGradient id="ball" cx="0.38" cy="0.32" r="0.75"><stop offset="0" stop-color="#f4d8ff"/><stop offset="0.25" stop-color="#c060f8"/><stop offset="0.7" stop-color="#9a22e0"/><stop offset="1" stop-color="#7010b0"/></radialGradient></defs>
<circle cx="45.90" cy="211.62" r="2.9" fill="url(#ball)"/>
<circle cx="47.40" cy="242.66" r="2.9" fill="url(#ball)"/>
<circle cx="48.91" cy="267.57" r="2.9" fill="url(#ball)"/>
<circle cx="60.94" cy="312.29" r="2.9" fill="url(#ball)"/>
<circle cx="75.98" cy="320.46" r="2.9" fill="url(#ball)"/>
<circle cx="136.14" cy="324.17" r="2.9" fill="url(#ball)"/>
<circle cx="196.30" cy="325.19" r="2.9" fill="url(#ball)"/>
<rect x="36.8" y="197.5" width="168.8" height="134.3" fill="none" stroke="#262626" stroke-width="1.3"/>
<line x1="36.80" y1="325.70" x2="40.00" y2="325.70" stroke="#262626" stroke-width="1" />
<text x="0" y="0" font-size="9.2" text-anchor="end" fill="#262626"  stroke="#262626" stroke-width="0.16" transform="translate(34.00,329.00) scale(1,1.06)">100</text>
<line x1="36.80" y1="312.93" x2="38.80" y2="312.93" stroke="#262626" stroke-width="1" />
<line x1="36.80" y1="300.15" x2="40.00" y2="300.15" stroke="#262626" stroke-width="1" />
<text x="0" y="0" font-size="9.2" text-anchor="end" fill="#262626"  stroke="#262626" stroke-width="0.16" transform="translate(34.00,303.45) scale(1,1.06)">120</text>
<line x1="36.80" y1="287.38" x2="38.80" y2="287.38" stroke="#262626" stroke-width="1" />
<line x1="36.80" y1="274.60" x2="40.00" y2="274.60" stroke="#262626" stroke-width="1" />
<text x="0" y="0" font-size="9.2" text-anchor="end" fill="#262626"  stroke="#262626" stroke-width="0.16" transform="translate(34.00,277.90) scale(1,1.06)">140</text>
<line x1="36.80" y1="261.82" x2="38.80" y2="261.82" stroke="#262626" stroke-width="1" />
<line x1="36.80" y1="249.05" x2="40.00" y2="249.05" stroke="#262626" stroke-width="1" />
<text x="0" y="0" font-size="9.2" text-anchor="end" fill="#262626"  stroke="#262626" stroke-width="0.16" transform="translate(34.00,252.35) scale(1,1.06)">160</text>
<line x1="36.80" y1="236.27" x2="38.80" y2="236.27" stroke="#262626" stroke-width="1" />
<line x1="36.80" y1="223.50" x2="40.00" y2="223.50" stroke="#262626" stroke-width="1" />
<text x="0" y="0" font-size="9.2" text-anchor="end" fill="#262626"  stroke="#262626" stroke-width="0.16" transform="translate(34.00,226.80) scale(1,1.06)">180</text>
<line x1="36.80" y1="210.72" x2="38.80" y2="210.72" stroke="#262626" stroke-width="1" />
<line x1="36.80" y1="197.95" x2="40.00" y2="197.95" stroke="#262626" stroke-width="1" />
<text x="0" y="0" font-size="9.2" text-anchor="end" fill="#262626"  stroke="#262626" stroke-width="0.16" transform="translate(34.00,201.25) scale(1,1.06)">200</text>
<line x1="45.90" y1="331.80" x2="45.90" y2="328.60" stroke="#262626" stroke-width="1" />
<text x="0" y="0" font-size="9.2" text-anchor="middle" fill="#262626"  stroke="#262626" stroke-width="0.16" transform="translate(45.90,342.50) scale(1,1.06)">0</text>
<line x1="60.94" y1="331.80" x2="60.94" y2="329.80" stroke="#262626" stroke-width="1" />
<line x1="75.98" y1="331.80" x2="75.98" y2="328.60" stroke="#262626" stroke-width="1" />
<text x="0" y="0" font-size="9.2" text-anchor="middle" fill="#262626"  stroke="#262626" stroke-width="0.16" transform="translate(75.98,342.50) scale(1,1.06)">1</text>
<line x1="91.02" y1="331.80" x2="91.02" y2="329.80" stroke="#262626" stroke-width="1" />
<line x1="106.06" y1="331.80" x2="106.06" y2="328.60" stroke="#262626" stroke-width="1" />
<text x="0" y="0" font-size="9.2" text-anchor="middle" fill="#262626"  stroke="#262626" stroke-width="0.16" transform="translate(106.06,342.50) scale(1,1.06)">2</text>
<line x1="121.10" y1="331.80" x2="121.10" y2="329.80" stroke="#262626" stroke-width="1" />
<line x1="136.14" y1="331.80" x2="136.14" y2="328.60" stroke="#262626" stroke-width="1" />
<text x="0" y="0" font-size="9.2" text-anchor="middle" fill="#262626"  stroke="#262626" stroke-width="0.16" transform="translate(136.14,342.50) scale(1,1.06)">3</text>
<line x1="151.18" y1="331.80" x2="151.18" y2="329.80" stroke="#262626" stroke-width="1" />
<line x1="166.22" y1="331.80" x2="166.22" y2="328.60" stroke="#262626" stroke-width="1" />
<text x="0" y="0" font-size="9.2" text-anchor="middle" fill="#262626"  stroke="#262626" stroke-width="0.16" transform="translate(166.22,342.50) scale(1,1.06)">4</text>
<line x1="181.26" y1="331.80" x2="181.26" y2="329.80" stroke="#262626" stroke-width="1" />
<line x1="196.30" y1="331.80" x2="196.30" y2="328.60" stroke="#262626" stroke-width="1" />
<text x="0" y="0" font-size="9.2" text-anchor="middle" fill="#262626"  stroke="#262626" stroke-width="0.16" transform="translate(196.30,342.50) scale(1,1.06)">5</text>
<text x="0" y="0" font-size="9.6" text-anchor="middle" fill="#262626"  stroke="#262626" stroke-width="0.16" transform="translate(122.00,352.80) scale(1,1.06)">&#916;t(s)</text>
<text font-size="9.6" fill="#262626" text-anchor="middle" transform="translate(12.3,264.3) rotate(-90) scale(1,1.06)" stroke="#262626" stroke-width="0.16">PPF index (%)</text>
<polyline points="94.50,221.10 127.67,221.10 128.01,208.35 129.36,208.35 129.70,221.10 131.21,221.10 131.55,208.35 133.06,208.35 133.40,221.10 178.70,221.10" fill="none" stroke="#5ce39a" stroke-width="1.1" stroke-linejoin="round" />
<polyline points="94.50,246.30 127.51,246.30 127.84,244.62 128.18,243.38 128.52,242.27 128.85,241.22 129.19,240.23 129.53,239.28 129.86,238.35 130.20,237.46 131.38,236.79 132.73,232.83 134.24,228.11 135.35,228.95 136.47,229.74 137.58,230.49 138.69,231.21 139.80,231.88 140.91,232.51 142.02,233.12 143.13,233.69 144.25,234.23 145.36,234.74 146.47,235.22 147.58,235.68 148.69,236.11 149.80,236.52 150.91,236.91 152.03,237.28 153.14,237.63 154.25,237.95 155.36,238.27 156.47,238.56 157.58,238.84 158.69,239.10 159.81,239.35 160.92,239.59 162.03,239.81 163.14,240.03 164.25,240.23 165.36,240.42 166.47,240.60 167.59,240.77 168.70,240.93 169.81,241.08 170.92,241.22 172.03,241.36 173.14,241.49 174.25,241.61 175.37,241.73 176.48,241.84 177.59,241.94 178.70,242.04" fill="none" stroke="#a030f0" stroke-width="1.3" stroke-linejoin="round" />
<line x1="147.00" y1="212.50" x2="161.00" y2="212.50" stroke="#5ce39a" stroke-width="1.5" />
<polygon points="166.00,212.50 160.00,209.80 160.00,215.20" fill="#5ce39a" stroke="none" stroke-width="1" />
<line x1="120.00" y1="231.80" x2="106.00" y2="231.80" stroke="#a030f0" stroke-width="1.5" />
<polygon points="101.00,231.80 107.00,229.10 107.00,234.50" fill="#a030f0" stroke="none" stroke-width="1" />
<line x1="122.50" y1="246.30" x2="141.00" y2="246.30" stroke="#333" stroke-width="0.7" stroke-dasharray="1.6,1.2"/>
<line x1="125.60" y1="236.50" x2="131.50" y2="236.50" stroke="#222" stroke-width="0.8" />
<line x1="125.60" y1="237.50" x2="125.60" y2="245.50" stroke="#222" stroke-width="0.7" />
<polygon points="125.60,236.60 124.50,239.00 126.70,239.00" fill="#222" stroke="none" stroke-width="1" />
<polygon points="125.60,246.20 124.50,243.80 126.70,243.80" fill="#222" stroke="none" stroke-width="1" />
<line x1="133.40" y1="227.90" x2="139.20" y2="227.90" stroke="#222" stroke-width="0.8" />
<line x1="136.60" y1="229.00" x2="136.60" y2="245.50" stroke="#222" stroke-width="0.7" />
<polygon points="136.60,228.00 135.50,230.40 137.70,230.40" fill="#222" stroke="none" stroke-width="1" />
<polygon points="136.60,246.20 135.50,243.80 137.70,243.80" fill="#222" stroke="none" stroke-width="1" />
<text x="0" y="0" font-size="8" fill="#262626" stroke="#262626" stroke-width="0.16" transform="translate(115.6,242.5) scale(1,1.06)">A<tspan font-size="5.5" dy="1.5">1</tspan></text>
<text x="0" y="0" font-size="8" fill="#262626" stroke="#262626" stroke-width="0.16" transform="translate(140,242) scale(1,1.06)">A<tspan font-size="5.5" dy="1.5">2</tspan></text>
<rect x="94.5" y="204.2" width="84.19999999999999" height="50.5" fill="none" stroke="#262626" stroke-width="1"/>
<line x1="94.50" y1="246.30" x2="97.00" y2="246.30" stroke="#262626" stroke-width="0.8" />
<text x="0" y="0" font-size="7.4" text-anchor="end" fill="#262626"  stroke="#262626" stroke-width="0.16" transform="translate(91.00,248.90) scale(1,1.06)">0.0</text>
<line x1="94.50" y1="237.88" x2="96.00" y2="237.88" stroke="#262626" stroke-width="0.8" />
<line x1="94.50" y1="229.46" x2="97.00" y2="229.46" stroke="#262626" stroke-width="0.8" />
<text x="0" y="0" font-size="7.4" text-anchor="end" fill="#262626"  stroke="#262626" stroke-width="0.16" transform="translate(91.00,232.06) scale(1,1.06)">0.2</text>
<line x1="94.50" y1="221.04" x2="96.00" y2="221.04" stroke="#262626" stroke-width="0.8" />
<line x1="94.50" y1="212.62" x2="97.00" y2="212.62" stroke="#262626" stroke-width="0.8" />
<text x="0" y="0" font-size="7.4" text-anchor="end" fill="#262626"  stroke="#262626" stroke-width="0.16" transform="translate(91.00,215.22) scale(1,1.06)">0.4</text>
<line x1="178.70" y1="246.60" x2="176.20" y2="246.60" stroke="#262626" stroke-width="0.8" />
<text x="0" y="0" font-size="7.4" text-anchor="start" fill="#262626"  stroke="#262626" stroke-width="0.16" transform="translate(182.60,249.20) scale(1,1.06)">-3.0</text>
<line x1="178.70" y1="240.22" x2="177.20" y2="240.22" stroke="#262626" stroke-width="0.8" />
<line x1="178.70" y1="233.85" x2="176.20" y2="233.85" stroke="#262626" stroke-width="0.8" />
<text x="0" y="0" font-size="7.4" text-anchor="start" fill="#262626"  stroke="#262626" stroke-width="0.16" transform="translate(182.60,236.45) scale(1,1.06)">-1.5</text>
<line x1="178.70" y1="227.47" x2="177.20" y2="227.47" stroke="#262626" stroke-width="0.8" />
<line x1="178.70" y1="221.10" x2="176.20" y2="221.10" stroke="#262626" stroke-width="0.8" />
<text x="0" y="0" font-size="7.4" text-anchor="start" fill="#262626"  stroke="#262626" stroke-width="0.16" transform="translate(182.60,223.70) scale(1,1.06)">0.0</text>
<line x1="178.70" y1="214.72" x2="177.20" y2="214.72" stroke="#262626" stroke-width="0.8" />
<line x1="178.70" y1="208.35" x2="176.20" y2="208.35" stroke="#262626" stroke-width="0.8" />
<text x="0" y="0" font-size="7.4" text-anchor="start" fill="#262626"  stroke="#262626" stroke-width="0.16" transform="translate(182.60,210.95) scale(1,1.06)">1.5</text>
<line x1="94.50" y1="254.70" x2="94.50" y2="252.20" stroke="#262626" stroke-width="0.8" />
<text x="0" y="0" font-size="7.4" text-anchor="middle" fill="#262626"  stroke="#262626" stroke-width="0.16" transform="translate(94.50,263.50) scale(1,1.06)">0.0</text>
<line x1="111.34" y1="254.70" x2="111.34" y2="253.20" stroke="#262626" stroke-width="0.8" />
<line x1="128.18" y1="254.70" x2="128.18" y2="252.20" stroke="#262626" stroke-width="0.8" />
<text x="0" y="0" font-size="7.4" text-anchor="middle" fill="#262626"  stroke="#262626" stroke-width="0.16" transform="translate(128.18,263.50) scale(1,1.06)">0.2</text>
<line x1="145.02" y1="254.70" x2="145.02" y2="253.20" stroke="#262626" stroke-width="0.8" />
<line x1="161.86" y1="254.70" x2="161.86" y2="252.20" stroke="#262626" stroke-width="0.8" />
<text x="0" y="0" font-size="7.4" text-anchor="middle" fill="#262626"  stroke="#262626" stroke-width="0.16" transform="translate(161.86,263.50) scale(1,1.06)">0.4</text>
<line x1="178.70" y1="254.70" x2="178.70" y2="253.20" stroke="#262626" stroke-width="0.8" />
<text x="0" y="0" font-size="7.4" text-anchor="middle" fill="#262626"  stroke="#262626" stroke-width="0.16" transform="translate(136.60,273.80) scale(1,1.06)">Time (s)</text>
<text font-size="7.4" fill="#262626" text-anchor="middle" transform="translate(75.9,229.5) rotate(-90) scale(1,1.06)" stroke="#262626" stroke-width="0.16">&#916;I<tspan font-size="5.3" dy="1.4">PSC</tspan><tspan dy="-1.4"> (mA)</tspan></text>
<text font-size="7.4" fill="#262626" text-anchor="middle" transform="translate(201.3,227) rotate(-90) scale(1,1.06)" stroke="#262626" stroke-width="0.16">V<tspan font-size="5.3" dy="1.4">G</tspan><tspan dy="-1.4"> (V)</tspan></text>
<text x="0" y="0" font-size="17" text-anchor="start" fill="#1a1a1a"  stroke="#1a1a1a" stroke-width="0.16" transform="translate(229.70,187.90) scale(1,1.06)">(e)</text>
<line x1="252.20" y1="256.76" x2="252.20" y2="322.46" stroke="#b8b8b8" stroke-width="0.6" stroke-dasharray="1.2,1.2"/>
<line x1="260.00" y1="247.08" x2="260.00" y2="312.78" stroke="#b8b8b8" stroke-width="0.6" stroke-dasharray="1.2,1.2"/>
<line x1="267.80" y1="237.39" x2="267.80" y2="303.09" stroke="#b8b8b8" stroke-width="0.6" stroke-dasharray="1.2,1.2"/>
<line x1="275.60" y1="227.71" x2="275.60" y2="293.41" stroke="#b8b8b8" stroke-width="0.6" stroke-dasharray="1.2,1.2"/>
<line x1="283.40" y1="218.03" x2="283.40" y2="283.73" stroke="#b8b8b8" stroke-width="0.6" stroke-dasharray="1.2,1.2"/>
<line x1="291.20" y1="208.34" x2="291.20" y2="274.04" stroke="#b8b8b8" stroke-width="0.6" stroke-dasharray="1.2,1.2"/>
<line x1="295.10" y1="203.50" x2="295.10" y2="269.20" stroke="#c8c8c8" stroke-width="0.6" />
<line x1="248.30" y1="327.30" x2="295.10" y2="269.20" stroke="#d0d0d0" stroke-width="0.6" />
<line x1="295.10" y1="269.20" x2="442.50" y2="269.20" stroke="#d0d0d0" stroke-width="0.6" />
<polygon points="296.50,274.04 299.98,263.57 303.46,255.16 306.94,247.39 310.42,240.01 313.90,232.90 317.38,226.00 320.87,219.28 324.35,212.69 326.16,215.96 327.97,218.94 329.78,221.65 331.59,224.14 333.40,226.43 335.21,228.54 337.02,230.49 338.83,232.29 340.64,233.97 342.45,235.54 344.27,237.00 346.08,238.37 347.89,239.65 349.70,240.85 351.51,241.98 353.32,243.05 355.13,244.06 356.94,245.01 358.75,245.91 360.56,246.76 362.37,247.57 364.19,248.34 366.00,249.08 367.81,249.77 369.62,250.44 371.43,251.07 373.24,251.68 375.05,252.26 376.86,252.81 378.67,253.34 380.48,253.85 382.29,254.34 384.11,254.80 385.92,255.25 387.73,255.68 389.54,256.10 391.35,256.50 393.16,256.89 394.97,257.26 396.78,257.62 398.59,257.96 400.40,258.30 402.21,258.62 404.03,258.93 405.84,259.23 407.65,259.52 409.46,259.81 411.27,260.08 413.08,260.34 414.89,260.60 416.70,260.85 418.51,261.09 420.32,261.33 422.13,261.55 423.95,261.77 425.76,261.99 427.57,262.20 429.38,262.40 431.19,262.60 433.00,262.79 433.00,274.04 296.50,274.04" fill="#f2b2b8" stroke="none" stroke-width="1" />
<polyline points="296.50,274.04 299.98,263.57 303.46,255.16 306.94,247.39 310.42,240.01 313.90,232.90 317.38,226.00 320.87,219.28 324.35,212.69 326.16,215.96 327.97,218.94 329.78,221.65 331.59,224.14 333.40,226.43 335.21,228.54 337.02,230.49 338.83,232.29 340.64,233.97 342.45,235.54 344.27,237.00 346.08,238.37 347.89,239.65 349.70,240.85 351.51,241.98 353.32,243.05 355.13,244.06 356.94,245.01 358.75,245.91 360.56,246.76 362.37,247.57 364.19,248.34 366.00,249.08 367.81,249.77 369.62,250.44 371.43,251.07 373.24,251.68 375.05,252.26 376.86,252.81 378.67,253.34 380.48,253.85 382.29,254.34 384.11,254.80 385.92,255.25 387.73,255.68 389.54,256.10 391.35,256.50 393.16,256.89 394.97,257.26 396.78,257.62 398.59,257.96 400.40,258.30 402.21,258.62 404.03,258.93 405.84,259.23 407.65,259.52 409.46,259.81 411.27,260.08 413.08,260.34 414.89,260.60 416.70,260.85 418.51,261.09 420.32,261.33 422.13,261.55 423.95,261.77 425.76,261.99 427.57,262.20 429.38,262.40 431.19,262.60 433.00,262.79" fill="none" stroke="#f22828" stroke-width="1.3" stroke-linejoin="round" />
<polygon points="288.70,283.73 290.47,277.37 292.25,272.27 294.02,267.56 295.80,263.09 297.57,258.77 299.35,254.59 301.12,250.51 302.90,246.52 304.93,248.66 306.97,250.59 309.01,252.33 311.05,253.90 313.09,255.34 315.13,256.65 317.16,257.86 319.20,258.97 321.24,260.00 323.28,260.95 325.32,261.83 327.36,262.65 329.40,263.41 331.43,264.13 333.47,264.80 335.51,265.43 337.55,266.02 339.59,266.58 341.63,267.10 343.66,267.59 345.70,268.06 347.74,268.51 349.78,268.93 351.82,269.33 353.86,269.71 355.89,270.07 357.93,270.41 359.97,270.74 362.01,271.05 364.05,271.35 366.09,271.64 368.12,271.91 370.16,272.18 372.20,272.43 374.24,272.67 376.28,272.90 378.32,273.13 380.36,273.34 382.39,273.55 384.43,273.74 386.47,273.94 388.51,274.12 390.55,274.30 392.59,274.47 394.62,274.64 396.66,274.80 398.70,274.95 400.74,275.10 402.78,275.25 404.82,275.39 406.85,275.52 408.89,275.66 410.93,275.78 412.97,275.91 415.01,276.03 417.05,276.15 419.08,276.26 421.12,276.37 423.16,276.48 425.20,276.58 425.20,283.73 288.70,283.73" fill="#f4d2b6" stroke="none" stroke-width="1" />
<polyline points="288.70,283.73 290.47,277.37 292.25,272.27 294.02,267.56 295.80,263.09 297.57,258.77 299.35,254.59 301.12,250.51 302.90,246.52 304.93,248.66 306.97,250.59 309.01,252.33 311.05,253.90 313.09,255.34 315.13,256.65 317.16,257.86 319.20,258.97 321.24,260.00 323.28,260.95 325.32,261.83 327.36,262.65 329.40,263.41 331.43,264.13 333.47,264.80 335.51,265.43 337.55,266.02 339.59,266.58 341.63,267.10 343.66,267.59 345.70,268.06 347.74,268.51 349.78,268.93 351.82,269.33 353.86,269.71 355.89,270.07 357.93,270.41 359.97,270.74 362.01,271.05 364.05,271.35 366.09,271.64 368.12,271.91 370.16,272.18 372.20,272.43 374.24,272.67 376.28,272.90 378.32,273.13 380.36,273.34 382.39,273.55 384.43,273.74 386.47,273.94 388.51,274.12 390.55,274.30 392.59,274.47 394.62,274.64 396.66,274.80 398.70,274.95 400.74,275.10 402.78,275.25 404.82,275.39 406.85,275.52 408.89,275.66 410.93,275.78 412.97,275.91 415.01,276.03 417.05,276.15 419.08,276.26 421.12,276.37 423.16,276.48 425.20,276.58" fill="none" stroke="#f26a2a" stroke-width="1.3" stroke-linejoin="round" />
<polygon points="280.90,293.41 281.63,290.30 282.37,287.80 283.10,285.49 283.83,283.29 284.57,281.18 285.30,279.13 286.04,277.13 286.77,275.18 288.95,276.18 291.12,277.07 293.30,277.87 295.48,278.60 297.66,279.25 299.83,279.85 302.01,280.40 304.19,280.90 306.36,281.36 308.54,281.78 310.72,282.18 312.90,282.54 315.07,282.88 317.25,283.20 319.43,283.49 321.60,283.77 323.78,284.03 325.96,284.27 328.14,284.50 330.31,284.72 332.49,284.92 334.67,285.11 336.84,285.30 339.02,285.47 341.20,285.63 343.38,285.79 345.55,285.94 347.73,286.08 349.91,286.21 352.08,286.34 354.26,286.47 356.44,286.58 358.62,286.70 360.79,286.80 362.97,286.91 365.15,287.01 367.32,287.10 369.50,287.19 371.68,287.28 373.86,287.36 376.03,287.45 378.21,287.52 380.39,287.60 382.57,287.67 384.74,287.74 386.92,287.81 389.10,287.88 391.27,287.94 393.45,288.00 395.63,288.06 397.81,288.12 399.98,288.17 402.16,288.23 404.34,288.28 406.51,288.33 408.69,288.38 410.87,288.43 413.05,288.47 415.22,288.52 417.40,288.56 417.40,293.41 280.90,293.41" fill="#f4f6c2" stroke="none" stroke-width="1" />
<polyline points="280.90,293.41 281.63,290.30 282.37,287.80 283.10,285.49 283.83,283.29 284.57,281.18 285.30,279.13 286.04,277.13 286.77,275.18 288.95,276.18 291.12,277.07 293.30,277.87 295.48,278.60 297.66,279.25 299.83,279.85 302.01,280.40 304.19,280.90 306.36,281.36 308.54,281.78 310.72,282.18 312.90,282.54 315.07,282.88 317.25,283.20 319.43,283.49 321.60,283.77 323.78,284.03 325.96,284.27 328.14,284.50 330.31,284.72 332.49,284.92 334.67,285.11 336.84,285.30 339.02,285.47 341.20,285.63 343.38,285.79 345.55,285.94 347.73,286.08 349.91,286.21 352.08,286.34 354.26,286.47 356.44,286.58 358.62,286.70 360.79,286.80 362.97,286.91 365.15,287.01 367.32,287.10 369.50,287.19 371.68,287.28 373.86,287.36 376.03,287.45 378.21,287.52 380.39,287.60 382.57,287.67 384.74,287.74 386.92,287.81 389.10,287.88 391.27,287.94 393.45,288.00 395.63,288.06 397.81,288.12 399.98,288.17 402.16,288.23 404.34,288.28 406.51,288.33 408.69,288.38 410.87,288.43 413.05,288.47 415.22,288.52 417.40,288.56" fill="none" stroke="#f0f028" stroke-width="1.3" stroke-linejoin="round" />
<polygon points="273.10,303.09 273.44,301.51 273.78,300.24 274.12,299.06 274.47,297.94 274.81,296.87 275.15,295.82 275.49,294.81 275.83,293.81 278.06,294.21 280.29,294.57 282.52,294.89 284.75,295.17 286.98,295.43 289.21,295.67 291.44,295.89 293.67,296.08 295.90,296.27 298.12,296.43 300.35,296.59 302.58,296.73 304.81,296.86 307.04,296.99 309.27,297.10 311.50,297.21 313.73,297.31 315.96,297.41 318.19,297.50 320.42,297.58 322.65,297.66 324.88,297.73 327.11,297.80 329.34,297.87 331.57,297.94 333.80,298.00 336.03,298.05 338.26,298.11 340.49,298.16 342.72,298.21 344.94,298.26 347.17,298.30 349.40,298.35 351.63,298.39 353.86,298.43 356.09,298.47 358.32,298.50 360.55,298.54 362.78,298.57 365.01,298.61 367.24,298.64 369.47,298.67 371.70,298.70 373.93,298.72 376.16,298.75 378.39,298.78 380.62,298.80 382.85,298.83 385.08,298.85 387.31,298.87 389.53,298.90 391.76,298.92 393.99,298.94 396.22,298.96 398.45,298.98 400.68,299.00 402.91,299.02 405.14,299.03 407.37,299.05 409.60,299.07 409.60,303.09 273.10,303.09" fill="#c2f5c2" stroke="none" stroke-width="1" />
<polyline points="273.10,303.09 273.44,301.51 273.78,300.24 274.12,299.06 274.47,297.94 274.81,296.87 275.15,295.82 275.49,294.81 275.83,293.81 278.06,294.21 280.29,294.57 282.52,294.89 284.75,295.17 286.98,295.43 289.21,295.67 291.44,295.89 293.67,296.08 295.90,296.27 298.12,296.43 300.35,296.59 302.58,296.73 304.81,296.86 307.04,296.99 309.27,297.10 311.50,297.21 313.73,297.31 315.96,297.41 318.19,297.50 320.42,297.58 322.65,297.66 324.88,297.73 327.11,297.80 329.34,297.87 331.57,297.94 333.80,298.00 336.03,298.05 338.26,298.11 340.49,298.16 342.72,298.21 344.94,298.26 347.17,298.30 349.40,298.35 351.63,298.39 353.86,298.43 356.09,298.47 358.32,298.50 360.55,298.54 362.78,298.57 365.01,298.61 367.24,298.64 369.47,298.67 371.70,298.70 373.93,298.72 376.16,298.75 378.39,298.78 380.62,298.80 382.85,298.83 385.08,298.85 387.31,298.87 389.53,298.90 391.76,298.92 393.99,298.94 396.22,298.96 398.45,298.98 400.68,299.00 402.91,299.02 405.14,299.03 407.37,299.05 409.60,299.07" fill="none" stroke="#28e028" stroke-width="1.3" stroke-linejoin="round" />
<polygon points="265.30,312.78 265.50,311.85 265.71,311.11 265.91,310.42 266.12,309.77 266.32,309.14 266.53,308.53 266.73,307.94 266.94,307.35 269.19,307.63 271.43,307.88 273.68,308.10 275.93,308.30 278.18,308.48 280.42,308.64 282.67,308.79 284.92,308.92 287.17,309.05 289.41,309.16 291.66,309.27 293.91,309.37 296.16,309.46 298.41,309.54 300.65,309.62 302.90,309.70 305.15,309.77 307.40,309.83 309.64,309.89 311.89,309.95 314.14,310.00 316.39,310.06 318.64,310.10 320.88,310.15 323.13,310.19 325.38,310.24 327.63,310.28 329.87,310.31 332.12,310.35 334.37,310.38 336.62,310.42 338.86,310.45 341.11,310.48 343.36,310.50 345.61,310.53 347.86,310.56 350.10,310.58 352.35,310.61 354.60,310.63 356.85,310.65 359.09,310.67 361.34,310.70 363.59,310.71 365.84,310.73 368.08,310.75 370.33,310.77 372.58,310.79 374.83,310.80 377.08,310.82 379.32,310.84 381.57,310.85 383.82,310.87 386.07,310.88 388.31,310.89 390.56,310.91 392.81,310.92 395.06,310.93 397.30,310.94 399.55,310.96 401.80,310.97 401.80,312.78 265.30,312.78" fill="#bcdcf6" stroke="none" stroke-width="1" />
<polyline points="265.30,312.78 265.50,311.85 265.71,311.11 265.91,310.42 266.12,309.77 266.32,309.14 266.53,308.53 266.73,307.94 266.94,307.35 269.19,307.63 271.43,307.88 273.68,308.10 275.93,308.30 278.18,308.48 280.42,308.64 282.67,308.79 284.92,308.92 287.17,309.05 289.41,309.16 291.66,309.27 293.91,309.37 296.16,309.46 298.41,309.54 300.65,309.62 302.90,309.70 305.15,309.77 307.40,309.83 309.64,309.89 311.89,309.95 314.14,310.00 316.39,310.06 318.64,310.10 320.88,310.15 323.13,310.19 325.38,310.24 327.63,310.28 329.87,310.31 332.12,310.35 334.37,310.38 336.62,310.42 338.86,310.45 341.11,310.48 343.36,310.50 345.61,310.53 347.86,310.56 350.10,310.58 352.35,310.61 354.60,310.63 356.85,310.65 359.09,310.67 361.34,310.70 363.59,310.71 365.84,310.73 368.08,310.75 370.33,310.77 372.58,310.79 374.83,310.80 377.08,310.82 379.32,310.84 381.57,310.85 383.82,310.87 386.07,310.88 388.31,310.89 390.56,310.91 392.81,310.92 395.06,310.93 397.30,310.94 399.55,310.96 401.80,310.97" fill="none" stroke="#4a88f2" stroke-width="1.3" stroke-linejoin="round" />
<polyline points="257.50,320.98 394.00,321.23" fill="none" stroke="#4a20e0" stroke-width="1.6" stroke-linejoin="round" />
<line x1="248.30" y1="327.30" x2="248.30" y2="261.60" stroke="#262626" stroke-width="1.2" />
<line x1="248.30" y1="261.60" x2="295.10" y2="203.50" stroke="#262626" stroke-width="1.2" />
<line x1="295.10" y1="203.50" x2="442.50" y2="203.50" stroke="#262626" stroke-width="1.2" />
<line x1="442.50" y1="203.50" x2="442.50" y2="269.20" stroke="#262626" stroke-width="1.2" />
<line x1="248.30" y1="327.30" x2="395.70" y2="327.30" stroke="#262626" stroke-width="1.2" />
<line x1="395.70" y1="327.30" x2="442.50" y2="269.20" stroke="#262626" stroke-width="1.2" />
<line x1="253.60" y1="327.30" x2="253.60" y2="324.50" stroke="#262626" stroke-width="0.9" />
<text x="0" y="0" font-size="9.8" text-anchor="middle" fill="#262626"  stroke="#262626" stroke-width="0.16" transform="translate(253.60,336.50) scale(1,1.06)">0</text>
<line x1="260.43" y1="327.30" x2="260.43" y2="326.10" stroke="#262626" stroke-width="0.9" />
<line x1="267.25" y1="327.30" x2="267.25" y2="325.50" stroke="#262626" stroke-width="0.9" />
<line x1="274.07" y1="327.30" x2="274.07" y2="326.10" stroke="#262626" stroke-width="0.9" />
<line x1="280.90" y1="327.30" x2="280.90" y2="324.50" stroke="#262626" stroke-width="0.9" />
<text x="0" y="0" font-size="9.8" text-anchor="middle" fill="#262626"  stroke="#262626" stroke-width="0.16" transform="translate(280.90,336.50) scale(1,1.06)">2</text>
<line x1="287.73" y1="327.30" x2="287.73" y2="326.10" stroke="#262626" stroke-width="0.9" />
<line x1="294.55" y1="327.30" x2="294.55" y2="325.50" stroke="#262626" stroke-width="0.9" />
<line x1="301.38" y1="327.30" x2="301.38" y2="326.10" stroke="#262626" stroke-width="0.9" />
<line x1="308.20" y1="327.30" x2="308.20" y2="324.50" stroke="#262626" stroke-width="0.9" />
<text x="0" y="0" font-size="9.8" text-anchor="middle" fill="#262626"  stroke="#262626" stroke-width="0.16" transform="translate(308.20,336.50) scale(1,1.06)">4</text>
<line x1="315.02" y1="327.30" x2="315.02" y2="326.10" stroke="#262626" stroke-width="0.9" />
<line x1="321.85" y1="327.30" x2="321.85" y2="325.50" stroke="#262626" stroke-width="0.9" />
<line x1="328.68" y1="327.30" x2="328.68" y2="326.10" stroke="#262626" stroke-width="0.9" />
<line x1="335.50" y1="327.30" x2="335.50" y2="324.50" stroke="#262626" stroke-width="0.9" />
<text x="0" y="0" font-size="9.8" text-anchor="middle" fill="#262626"  stroke="#262626" stroke-width="0.16" transform="translate(335.50,336.50) scale(1,1.06)">6</text>
<line x1="342.32" y1="327.30" x2="342.32" y2="326.10" stroke="#262626" stroke-width="0.9" />
<line x1="349.15" y1="327.30" x2="349.15" y2="325.50" stroke="#262626" stroke-width="0.9" />
<line x1="355.98" y1="327.30" x2="355.98" y2="326.10" stroke="#262626" stroke-width="0.9" />
<line x1="362.80" y1="327.30" x2="362.80" y2="324.50" stroke="#262626" stroke-width="0.9" />
<text x="0" y="0" font-size="9.8" text-anchor="middle" fill="#262626"  stroke="#262626" stroke-width="0.16" transform="translate(362.80,336.50) scale(1,1.06)">8</text>
<line x1="369.62" y1="327.30" x2="369.62" y2="326.10" stroke="#262626" stroke-width="0.9" />
<line x1="376.45" y1="327.30" x2="376.45" y2="325.50" stroke="#262626" stroke-width="0.9" />
<line x1="383.27" y1="327.30" x2="383.27" y2="326.10" stroke="#262626" stroke-width="0.9" />
<line x1="390.10" y1="327.30" x2="390.10" y2="324.50" stroke="#262626" stroke-width="0.9" />
<text x="0" y="0" font-size="9.8" text-anchor="middle" fill="#262626"  stroke="#262626" stroke-width="0.16" transform="translate(390.10,336.50) scale(1,1.06)">10</text>
<text x="0" y="0" font-size="9.6" text-anchor="middle" fill="#262626"  stroke="#262626" stroke-width="0.16" transform="translate(326.00,348.40) scale(1,1.06)">Time (s)</text>
<line x1="442.50" y1="267.90" x2="439.70" y2="267.90" stroke="#262626" stroke-width="0.9" />
<text x="0" y="0" font-size="9.8" text-anchor="start" fill="#262626"  stroke="#262626" stroke-width="0.16" transform="translate(444.60,271.30) scale(1,1.06)">0</text>
<line x1="442.50" y1="259.85" x2="440.70" y2="259.85" stroke="#262626" stroke-width="0.9" />
<line x1="442.50" y1="251.80" x2="439.70" y2="251.80" stroke="#262626" stroke-width="0.9" />
<text x="0" y="0" font-size="9.8" text-anchor="start" fill="#262626"  stroke="#262626" stroke-width="0.16" transform="translate(444.60,255.20) scale(1,1.06)">200</text>
<line x1="442.50" y1="243.75" x2="440.70" y2="243.75" stroke="#262626" stroke-width="0.9" />
<line x1="442.50" y1="235.70" x2="439.70" y2="235.70" stroke="#262626" stroke-width="0.9" />
<text x="0" y="0" font-size="9.8" text-anchor="start" fill="#262626"  stroke="#262626" stroke-width="0.16" transform="translate(444.60,239.10) scale(1,1.06)">400</text>
<line x1="442.50" y1="227.65" x2="440.70" y2="227.65" stroke="#262626" stroke-width="0.9" />
<line x1="442.50" y1="219.60" x2="439.70" y2="219.60" stroke="#262626" stroke-width="0.9" />
<text x="0" y="0" font-size="9.8" text-anchor="start" fill="#262626"  stroke="#262626" stroke-width="0.16" transform="translate(444.60,223.00) scale(1,1.06)">600</text>
<line x1="442.50" y1="211.55" x2="440.70" y2="211.55" stroke="#262626" stroke-width="0.9" />
<line x1="442.50" y1="203.50" x2="439.70" y2="203.50" stroke="#262626" stroke-width="0.9" />
<text x="0" y="0" font-size="9.8" text-anchor="start" fill="#262626"  stroke="#262626" stroke-width="0.16" transform="translate(444.60,206.90) scale(1,1.06)">800</text>
<text font-size="10.2" fill="#262626" text-anchor="middle" transform="translate(474.8,235.6) rotate(-90) scale(1,1.06)" stroke="#262626" stroke-width="0.16">&#916;I<tspan font-size="7.6" dy="1.9">PSC</tspan><tspan dy="-1.9"> (&#956;A)</tspan></text>
<line x1="399.60" y1="322.46" x2="397.10" y2="322.46" stroke="#262626" stroke-width="0.9" />
<text font-size="9.2" fill="#262626" transform="matrix(1,0,-0.627,0.78,405.60,326.76) scale(1,1.06)" stroke="#262626" stroke-width="0.16">1</text>
<line x1="407.40" y1="312.78" x2="404.90" y2="312.78" stroke="#262626" stroke-width="0.9" />
<text font-size="9.2" fill="#262626" transform="matrix(1,0,-0.627,0.78,413.40,317.08) scale(1,1.06)" stroke="#262626" stroke-width="0.16">5</text>
<line x1="415.20" y1="303.09" x2="412.70" y2="303.09" stroke="#262626" stroke-width="0.9" />
<text font-size="9.2" fill="#262626" transform="matrix(1,0,-0.627,0.78,421.20,307.39) scale(1,1.06)" stroke="#262626" stroke-width="0.16">10</text>
<line x1="423.00" y1="293.41" x2="420.50" y2="293.41" stroke="#262626" stroke-width="0.9" />
<text font-size="9.2" fill="#262626" transform="matrix(1,0,-0.627,0.78,429.00,297.71) scale(1,1.06)" stroke="#262626" stroke-width="0.16">20</text>
<line x1="430.80" y1="283.73" x2="428.30" y2="283.73" stroke="#262626" stroke-width="0.9" />
<text font-size="9.2" fill="#262626" transform="matrix(1,0,-0.627,0.78,436.80,288.03) scale(1,1.06)" stroke="#262626" stroke-width="0.16">50</text>
<line x1="438.60" y1="274.04" x2="436.10" y2="274.04" stroke="#262626" stroke-width="0.9" />
<text font-size="9.2" fill="#262626" transform="matrix(1,0,-0.627,0.78,444.60,278.34) scale(1,1.06)" stroke="#262626" stroke-width="0.16">100</text>
<text font-size="9.6" fill="#262626" text-anchor="middle" transform="matrix(0.627,-0.78,1,0,450.8,298.5) scale(1,1.06)" stroke="#262626" stroke-width="0.16">Pulse number</text>
<text x="0" y="0" font-size="17" text-anchor="start" fill="#1a1a1a"  stroke="#1a1a1a" stroke-width="0.16" transform="translate(471.80,187.90) scale(1,1.06)">(f)</text>
<text x="0" y="0" font-size="12.5" font-weight="bold" fill="#4f9c9c" transform="translate(494.5,202.9) scale(1,1.06)">Information</text>
<rect x="503.2" y="219.5" width="50.00" height="20.70" rx="3" ry="3" fill="#e2f6f6" stroke="#9cc8cc" stroke-width="0.8"/>
<text x="0" y="0" font-size="8.5" text-anchor="middle" fill="#222" stroke="#222" stroke-width="0.08" transform="translate(528.20,232.95) scale(1,1.06)">Learn</text>
<rect x="571.4" y="219.5" width="37.40" height="20.70" rx="3" ry="3" fill="#c4ecea" stroke="#8cc4c4" stroke-width="0.8"/>
<text x="0" y="0" font-size="8.5" text-anchor="middle" fill="#222" stroke="#222" stroke-width="0.08" transform="translate(590.10,232.95) scale(1,1.06)">STM</text>
<rect x="627.5" y="219.5" width="52.70" height="20.70" rx="3" ry="3" fill="#f07090" stroke="#58708c" stroke-width="0.8"/>
<text x="0" y="0" font-size="8.5" text-anchor="middle" fill="#222" stroke="#222" stroke-width="0.08" transform="translate(653.85,232.95) scale(1,1.06)">Forget</text>
<rect x="503.2" y="258.8" width="50.00" height="20.70" rx="3" ry="3" fill="#a8cce8" stroke="#7ca8c8" stroke-width="0.8"/>
<text x="0" y="0" font-size="8.5" text-anchor="middle" fill="#222" stroke="#222" stroke-width="0.08" transform="translate(528.20,272.25) scale(1,1.06)">Relearn</text>
<rect x="571.4" y="258.8" width="37.40" height="20.70" rx="3" ry="3" fill="#8ad8d2" stroke="#6cb8b8" stroke-width="0.8"/>
<text x="0" y="0" font-size="8.5" text-anchor="middle" fill="#222" stroke="#222" stroke-width="0.08" transform="translate(590.10,272.25) scale(1,1.06)">STM</text>
<rect x="627.5" y="258.8" width="52.70" height="20.70" rx="3" ry="3" fill="#f4b6c6" stroke="#6c90a8" stroke-width="0.8"/>
<text x="0" y="0" font-size="8.5" text-anchor="middle" fill="#222" stroke="#222" stroke-width="0.08" transform="translate(653.85,272.25) scale(1,1.06)">Forget</text>
<rect x="572.2" y="315.2" width="36.70" height="20.10" rx="3" ry="3" fill="#4b9692" stroke="#4b9692" stroke-width="0.8"/>
<text x="0" y="0" font-size="8.5" text-anchor="middle" fill="#222" stroke="#222" stroke-width="0.08" transform="translate(590.55,328.35) scale(1,1.06)">LTM</text>
<rect x="627.5" y="315.2" width="52.70" height="20.10" rx="3" ry="3" fill="#f9e9ef" stroke="#5a9ab0" stroke-width="0.8"/>
<text x="0" y="0" font-size="8.5" text-anchor="middle" fill="#222" stroke="#222" stroke-width="0.08" transform="translate(653.85,328.35) scale(1,1.06)">Forget</text>
<line x1="524.30" y1="205.50" x2="524.30" y2="216.80" stroke="#3a7a98" stroke-width="0.9" stroke-dasharray="2.2,1.2"/>
<polygon points="524.30,219.30 522.54,216.10 526.06,216.10" fill="#3a7a98" stroke="none" stroke-width="1" />
<line x1="553.60" y1="229.80" x2="568.70" y2="229.80" stroke="#3a7a98" stroke-width="0.9" stroke-dasharray="2.2,1.2"/>
<polygon points="571.20,229.80 568.00,231.56 568.00,228.04" fill="#3a7a98" stroke="none" stroke-width="1" />
<line x1="609.20" y1="229.80" x2="624.80" y2="229.80" stroke="#3a7a98" stroke-width="0.9" stroke-dasharray="2.2,1.2"/>
<polygon points="627.30,229.80 624.10,231.56 624.10,228.04" fill="#3a7a98" stroke="none" stroke-width="1" />
<line x1="589.80" y1="240.40" x2="589.80" y2="256.10" stroke="#3a7a98" stroke-width="0.9" />
<polygon points="589.80,258.60 588.04,255.40 591.56,255.40" fill="#3a7a98" stroke="none" stroke-width="1" />
<line x1="571.20" y1="269.10" x2="555.90" y2="269.10" stroke="#3a7a98" stroke-width="0.9" stroke-dasharray="2.2,1.2"/>
<polygon points="553.40,269.10 556.60,267.34 556.60,270.86" fill="#3a7a98" stroke="none" stroke-width="1" />
<line x1="609.20" y1="269.10" x2="624.80" y2="269.10" stroke="#3a7a98" stroke-width="0.9" stroke-dasharray="2.2,1.2"/>
<polygon points="627.30,269.10 624.10,270.86 624.10,267.34" fill="#3a7a98" stroke="none" stroke-width="1" />
<line x1="572.00" y1="325.20" x2="555.80" y2="325.20" stroke="#3a7a98" stroke-width="0.9" stroke-dasharray="2.2,1.2"/>
<polygon points="553.30,325.20 556.50,323.44 556.50,326.96" fill="#3a7a98" stroke="none" stroke-width="1" />
<line x1="609.10" y1="325.20" x2="624.80" y2="325.20" stroke="#3a7a98" stroke-width="0.9" stroke-dasharray="2.2,1.2"/>
<polygon points="627.30,325.20 624.10,326.96 624.10,323.44" fill="#3a7a98" stroke="none" stroke-width="1" />
<line x1="591.30" y1="284.20" x2="591.30" y2="292.00" stroke="#333" stroke-width="0.9" stroke-dasharray="1.2,1.3"/>
<text x="0" y="0" font-size="8.3" font-weight="bold" fill="#1a1a1a" text-anchor="middle" transform="translate(596.2,305) scale(1,1.06)">Long-term Traning</text>
<text x="0" y="0" font-size="12.7" font-weight="bold" fill="#3c82d2" transform="translate(474.2,329.7) scale(1,1.06)">Consolidate</text>
<text x="0" y="0" font-size="17" text-anchor="start" fill="#1a1a1a"  stroke="#1a1a1a" stroke-width="0.16" transform="translate(0.10,366.90) scale(1,1.06)">(g)</text>
<rect x="36.80" y="386.30" width="29.50" height="30.30" fill="#62befc"/>
<rect x="66.30" y="416.60" width="29.50" height="30.30" fill="#62befc"/>
<rect x="95.80" y="386.30" width="29.50" height="30.30" fill="#62befc"/>
<rect x="125.30" y="416.60" width="29.50" height="30.30" fill="#62befc"/>
<rect x="154.80" y="386.30" width="29.50" height="30.30" fill="#62befc"/>
<rect x="184.30" y="416.60" width="29.50" height="30.30" fill="#62befc"/>
<rect x="213.80" y="386.30" width="29.50" height="30.30" fill="#62befc"/>
<rect x="243.30" y="416.60" width="29.50" height="30.30" fill="#62befc"/>
<rect x="272.80" y="386.30" width="29.50" height="30.30" fill="#62befc"/>
<rect x="302.30" y="416.60" width="29.50" height="30.30" fill="#62befc"/>
<rect x="36.80" y="504.54" width="29.50" height="37.36" fill="#faf2df"/>
<rect x="95.80" y="504.54" width="23.01" height="37.36" fill="#faf2df"/>
<rect x="154.80" y="504.54" width="21.24" height="37.36" fill="#faf2df"/>
<rect x="213.80" y="504.54" width="18.88" height="37.36" fill="#faf2df"/>
<rect x="272.80" y="504.54" width="17.70" height="37.36" fill="#faf2df"/>
<rect x="66.30" y="504.54" width="29.50" height="37.36" fill="#ebfaf2"/>
<rect x="131.20" y="504.54" width="23.60" height="37.36" fill="#ebfaf2"/>
<rect x="192.56" y="504.54" width="21.24" height="37.36" fill="#ebfaf2"/>
<rect x="253.92" y="504.54" width="18.88" height="37.36" fill="#ebfaf2"/>
<rect x="312.92" y="504.54" width="18.88" height="37.36" fill="#ebfaf2"/>
<polyline points="36.80,541.90 38.27,540.43 39.75,538.79 41.22,537.09 42.70,535.33 44.17,533.54 45.65,531.72 47.12,529.88 48.60,528.01 50.07,526.13 51.55,524.23 53.02,522.31 54.50,520.38 55.97,518.44 57.45,516.48 58.92,514.52 60.40,512.54 61.88,510.55 63.35,508.56 64.82,506.55 66.30,504.54 67.28,506.71 68.27,508.75 69.25,510.67 70.23,512.48 71.22,514.19 72.20,515.80 73.18,517.31 74.17,518.74 75.15,520.08 76.13,521.35 77.12,522.55 78.10,523.67 79.08,524.73 80.07,525.73 81.05,526.67 82.03,527.56 83.02,528.40 84.00,529.18 84.98,529.92 85.97,530.62 86.95,531.28 87.93,531.90 88.92,532.49 89.90,533.04 90.88,533.56 91.87,534.05 92.85,534.51 93.83,534.94 94.82,535.35 95.80,535.74 95.80,535.74 97.27,534.14 98.75,532.36 100.22,530.51 101.70,528.61 103.17,526.67 104.65,524.69 106.12,522.69 107.60,520.67 109.08,518.62 110.55,516.56 112.02,514.48 113.50,512.39 114.97,510.28 116.45,508.16 117.92,506.03 119.40,503.88 120.88,501.73 122.35,499.56 123.83,497.38 125.30,495.20 126.28,497.75 127.27,500.16 128.25,502.43 129.23,504.57 130.22,506.58 131.20,508.48 132.18,510.27 133.17,511.95 134.15,513.54 135.13,515.03 136.12,516.44 137.10,517.77 138.08,519.02 139.07,520.20 140.05,521.31 141.03,522.35 142.02,523.34 143.00,524.27 143.98,525.14 144.97,525.97 145.95,526.75 146.93,527.48 147.92,528.17 148.90,528.82 149.88,529.43 150.87,530.01 151.85,530.55 152.83,531.06 153.82,531.54 154.80,532.00 154.80,532.00 156.27,530.32 157.75,528.46 159.23,526.51 160.70,524.51 162.18,522.47 163.65,520.40 165.12,518.29 166.60,516.17 168.07,514.02 169.55,511.85 171.02,509.67 172.50,507.47 173.98,505.25 175.45,503.02 176.93,500.78 178.40,498.53 179.88,496.27 181.35,493.99 182.82,491.70 184.30,489.41 185.28,492.35 186.27,495.13 187.25,497.74 188.23,500.20 189.22,502.52 190.20,504.71 191.18,506.77 192.17,508.71 193.15,510.54 194.13,512.26 195.12,513.89 196.10,515.42 197.08,516.86 198.07,518.21 199.05,519.49 200.03,520.70 201.02,521.84 202.00,522.91 202.98,523.91 203.97,524.86 204.95,525.76 205.93,526.60 206.92,527.40 207.90,528.15 208.88,528.85 209.87,529.52 210.85,530.14 211.83,530.73 212.82,531.29 213.80,531.81 213.80,531.81 215.27,529.92 216.75,527.82 218.23,525.63 219.70,523.37 221.18,521.07 222.65,518.73 224.12,516.36 225.60,513.97 227.07,511.55 228.55,509.10 230.02,506.64 231.50,504.16 232.98,501.66 234.45,499.15 235.93,496.63 237.40,494.09 238.88,491.53 240.35,488.97 241.82,486.39 243.30,483.81 244.28,487.20 245.27,490.40 246.25,493.42 247.23,496.26 248.22,498.94 249.20,501.46 250.18,503.84 251.17,506.08 252.15,508.19 253.13,510.18 254.12,512.06 255.10,513.82 256.08,515.48 257.07,517.05 258.05,518.53 259.03,519.92 260.02,521.23 261.00,522.47 261.98,523.63 262.97,524.73 263.95,525.76 264.93,526.73 265.92,527.65 266.90,528.51 267.88,529.33 268.87,530.10 269.85,530.82 270.83,531.50 271.82,532.14 272.80,532.75 272.80,532.75 274.28,530.70 275.75,528.41 277.23,526.03 278.70,523.58 280.18,521.09 281.65,518.55 283.12,515.98 284.60,513.37 286.07,510.75 287.55,508.09 289.03,505.42 290.50,502.73 291.98,500.02 293.45,497.29 294.93,494.55 296.40,491.79 297.88,489.02 299.35,486.24 300.82,483.44 302.30,480.63 303.28,484.13 304.27,487.43 305.25,490.54 306.23,493.47 307.22,496.23 308.20,498.83 309.18,501.28 310.17,503.59 311.15,505.76 312.13,507.81 313.12,509.74 314.10,511.56 315.08,513.28 316.07,514.89 317.05,516.41 318.03,517.85 319.02,519.20 320.00,520.47 320.98,521.67 321.97,522.80 322.95,523.87 323.93,524.87 324.92,525.81 325.90,526.70 326.88,527.54 327.87,528.33 328.85,529.08 329.83,529.78 330.82,530.44 331.80,531.07" fill="none" stroke="#f0962e" stroke-width="1.5" stroke-linejoin="round" />
<line x1="36.80" y1="504.54" x2="331.80" y2="504.54" stroke="#111" stroke-width="1.1" stroke-dasharray="4.2,2.6"/>
<rect x="36.8" y="376.4" width="295.0" height="165.5" fill="none" stroke="#262626" stroke-width="1.3"/>
<line x1="36.80" y1="457.90" x2="331.80" y2="457.90" stroke="#262626" stroke-width="1.3" />
<line x1="36.80" y1="446.90" x2="40.00" y2="446.90" stroke="#262626" stroke-width="1" />
<text x="0" y="0" font-size="9.2" text-anchor="end" fill="#262626"  stroke="#262626" stroke-width="0.16" transform="translate(32.50,450.20) scale(1,1.06)">-1.5</text>
<line x1="36.80" y1="431.75" x2="38.80" y2="431.75" stroke="#262626" stroke-width="1" />
<line x1="36.80" y1="416.60" x2="40.00" y2="416.60" stroke="#262626" stroke-width="1" />
<text x="0" y="0" font-size="9.2" text-anchor="end" fill="#262626"  stroke="#262626" stroke-width="0.16" transform="translate(32.50,419.90) scale(1,1.06)">0.0</text>
<line x1="36.80" y1="401.45" x2="38.80" y2="401.45" stroke="#262626" stroke-width="1" />
<line x1="36.80" y1="386.30" x2="40.00" y2="386.30" stroke="#262626" stroke-width="1" />
<text x="0" y="0" font-size="9.2" text-anchor="end" fill="#262626"  stroke="#262626" stroke-width="0.16" transform="translate(32.50,389.60) scale(1,1.06)">1.5</text>
<line x1="36.80" y1="541.90" x2="40.00" y2="541.90" stroke="#262626" stroke-width="1" />
<line x1="331.80" y1="541.90" x2="328.60" y2="541.90" stroke="#262626" stroke-width="1" />
<text x="0" y="0" font-size="9.2" text-anchor="end" fill="#262626"  stroke="#262626" stroke-width="0.16" transform="translate(32.50,545.20) scale(1,1.06)">0</text>
<line x1="36.80" y1="532.56" x2="38.80" y2="532.56" stroke="#262626" stroke-width="1" />
<line x1="331.80" y1="532.56" x2="329.80" y2="532.56" stroke="#262626" stroke-width="1" />
<line x1="36.80" y1="523.22" x2="40.00" y2="523.22" stroke="#262626" stroke-width="1" />
<line x1="331.80" y1="523.22" x2="328.60" y2="523.22" stroke="#262626" stroke-width="1" />
<text x="0" y="0" font-size="9.2" text-anchor="end" fill="#262626"  stroke="#262626" stroke-width="0.16" transform="translate(32.50,526.52) scale(1,1.06)">100</text>
<line x1="36.80" y1="513.88" x2="38.80" y2="513.88" stroke="#262626" stroke-width="1" />
<line x1="331.80" y1="513.88" x2="329.80" y2="513.88" stroke="#262626" stroke-width="1" />
<line x1="36.80" y1="504.54" x2="40.00" y2="504.54" stroke="#262626" stroke-width="1" />
<line x1="331.80" y1="504.54" x2="328.60" y2="504.54" stroke="#262626" stroke-width="1" />
<text x="0" y="0" font-size="9.2" text-anchor="end" fill="#262626"  stroke="#262626" stroke-width="0.16" transform="translate(32.50,507.84) scale(1,1.06)">200</text>
<line x1="36.80" y1="495.20" x2="38.80" y2="495.20" stroke="#262626" stroke-width="1" />
<line x1="331.80" y1="495.20" x2="329.80" y2="495.20" stroke="#262626" stroke-width="1" />
<line x1="36.80" y1="485.86" x2="40.00" y2="485.86" stroke="#262626" stroke-width="1" />
<line x1="331.80" y1="485.86" x2="328.60" y2="485.86" stroke="#262626" stroke-width="1" />
<text x="0" y="0" font-size="9.2" text-anchor="end" fill="#262626"  stroke="#262626" stroke-width="0.16" transform="translate(32.50,489.16) scale(1,1.06)">300</text>
<line x1="36.80" y1="476.52" x2="38.80" y2="476.52" stroke="#262626" stroke-width="1" />
<line x1="331.80" y1="476.52" x2="329.80" y2="476.52" stroke="#262626" stroke-width="1" />
<line x1="36.80" y1="467.18" x2="40.00" y2="467.18" stroke="#262626" stroke-width="1" />
<line x1="331.80" y1="467.18" x2="328.60" y2="467.18" stroke="#262626" stroke-width="1" />
<text x="0" y="0" font-size="9.2" text-anchor="end" fill="#262626"  stroke="#262626" stroke-width="0.16" transform="translate(32.50,470.48) scale(1,1.06)">400</text>
<line x1="36.80" y1="541.90" x2="36.80" y2="538.70" stroke="#262626" stroke-width="1" />
<text x="0" y="0" font-size="9.2" text-anchor="middle" fill="#262626"  stroke="#262626" stroke-width="0.16" transform="translate(36.80,553.90) scale(1,1.06)">0</text>
<line x1="66.30" y1="541.90" x2="66.30" y2="539.90" stroke="#262626" stroke-width="1" />
<line x1="95.80" y1="541.90" x2="95.80" y2="538.70" stroke="#262626" stroke-width="1" />
<text x="0" y="0" font-size="9.2" text-anchor="middle" fill="#262626"  stroke="#262626" stroke-width="0.16" transform="translate(95.80,553.90) scale(1,1.06)">1</text>
<line x1="125.30" y1="541.90" x2="125.30" y2="539.90" stroke="#262626" stroke-width="1" />
<line x1="154.80" y1="541.90" x2="154.80" y2="538.70" stroke="#262626" stroke-width="1" />
<text x="0" y="0" font-size="9.2" text-anchor="middle" fill="#262626"  stroke="#262626" stroke-width="0.16" transform="translate(154.80,553.90) scale(1,1.06)">2</text>
<line x1="184.30" y1="541.90" x2="184.30" y2="539.90" stroke="#262626" stroke-width="1" />
<line x1="213.80" y1="541.90" x2="213.80" y2="538.70" stroke="#262626" stroke-width="1" />
<text x="0" y="0" font-size="9.2" text-anchor="middle" fill="#262626"  stroke="#262626" stroke-width="0.16" transform="translate(213.80,553.90) scale(1,1.06)">3</text>
<line x1="243.30" y1="541.90" x2="243.30" y2="539.90" stroke="#262626" stroke-width="1" />
<line x1="272.80" y1="541.90" x2="272.80" y2="538.70" stroke="#262626" stroke-width="1" />
<text x="0" y="0" font-size="9.2" text-anchor="middle" fill="#262626"  stroke="#262626" stroke-width="0.16" transform="translate(272.80,553.90) scale(1,1.06)">4</text>
<line x1="302.30" y1="541.90" x2="302.30" y2="539.90" stroke="#262626" stroke-width="1" />
<line x1="331.80" y1="541.90" x2="331.80" y2="538.70" stroke="#262626" stroke-width="1" />
<text x="0" y="0" font-size="9.2" text-anchor="middle" fill="#262626"  stroke="#262626" stroke-width="0.16" transform="translate(331.80,553.90) scale(1,1.06)">5</text>
<text x="0" y="0" font-size="9.6" text-anchor="middle" fill="#262626"  stroke="#262626" stroke-width="0.16" transform="translate(184.40,565.90) scale(1,1.06)">Time (s)</text>
<text font-size="9.6" fill="#262626" text-anchor="middle" transform="translate(13.2,416.5) rotate(-90) scale(1,1.06)" stroke="#262626" stroke-width="0.16">V<tspan font-size="6.8" dy="1.8">G</tspan><tspan dy="-1.8"> (V)</tspan></text>
<text font-size="9.6" fill="#262626" text-anchor="middle" transform="translate(13.2,498.5) rotate(-90) scale(1,1.06)" stroke="#262626" stroke-width="0.16">&#916;I<tspan font-size="6.8" dy="1.8">PSC</tspan><tspan dy="-1.8"> (&#956;A)</tspan></text>
<text x="0" y="0" font-size="9.2" fill="#262626" text-anchor="middle" stroke="#262626" stroke-width="0.16" transform="translate(52.80,470.8) scale(1,1.06)">1<tspan font-size="6" dy="-3.3">st</tspan></text>
<text x="0" y="0" font-size="9.2" text-anchor="middle" fill="#262626"  stroke="#262626" stroke-width="0.16" transform="translate(52.60,482.70) scale(1,1.06)">learn</text>
<line x1="51.30" y1="485.70" x2="51.30" y2="500.00" stroke="#222" stroke-width="0.8" />
<polygon points="51.30,503.30 49.60,499.00 53.00,499.00" fill="#222" stroke="none" stroke-width="1" />
<text x="0" y="0" font-size="9.2" fill="#262626" text-anchor="middle" stroke="#262626" stroke-width="0.16" transform="translate(107.80,470.8) scale(1,1.06)">2<tspan font-size="6" dy="-3.3">nd</tspan></text>
<text x="0" y="0" font-size="9.2" text-anchor="middle" fill="#262626"  stroke="#262626" stroke-width="0.16" transform="translate(107.60,482.70) scale(1,1.06)">learn</text>
<line x1="106.30" y1="485.70" x2="106.30" y2="500.00" stroke="#222" stroke-width="0.8" />
<polygon points="106.30,503.30 104.60,499.00 108.00,499.00" fill="#222" stroke="none" stroke-width="1" />
<text x="0" y="0" font-size="9.2" fill="#262626" text-anchor="middle" stroke="#262626" stroke-width="0.16" transform="translate(167.20,470.8) scale(1,1.06)">3<tspan font-size="6" dy="-3.3">rd</tspan></text>
<text x="0" y="0" font-size="9.2" text-anchor="middle" fill="#262626"  stroke="#262626" stroke-width="0.16" transform="translate(167.00,482.70) scale(1,1.06)">learn</text>
<line x1="165.70" y1="485.70" x2="165.70" y2="500.00" stroke="#222" stroke-width="0.8" />
<polygon points="165.70,503.30 164.00,499.00 167.40,499.00" fill="#222" stroke="none" stroke-width="1" />
<text x="0" y="0" font-size="9.2" fill="#262626" text-anchor="middle" stroke="#262626" stroke-width="0.16" transform="translate(224.60,470.8) scale(1,1.06)">4<tspan font-size="6" dy="-3.3">th</tspan></text>
<text x="0" y="0" font-size="9.2" text-anchor="middle" fill="#262626"  stroke="#262626" stroke-width="0.16" transform="translate(224.40,482.70) scale(1,1.06)">learn</text>
<line x1="223.10" y1="485.70" x2="223.10" y2="500.00" stroke="#222" stroke-width="0.8" />
<polygon points="223.10,503.30 221.40,499.00 224.80,499.00" fill="#222" stroke="none" stroke-width="1" />
<text x="0" y="0" font-size="9.2" fill="#262626" text-anchor="middle" stroke="#262626" stroke-width="0.16" transform="translate(282.80,470.8) scale(1,1.06)">5<tspan font-size="6" dy="-3.3">th</tspan></text>
<text x="0" y="0" font-size="9.2" text-anchor="middle" fill="#262626"  stroke="#262626" stroke-width="0.16" transform="translate(282.60,482.70) scale(1,1.06)">learn</text>
<line x1="281.30" y1="485.70" x2="281.30" y2="500.00" stroke="#222" stroke-width="0.8" />
<polygon points="281.30,503.30 279.60,499.00 283.00,499.00" fill="#222" stroke="none" stroke-width="1" />
<text x="0" y="0" font-size="9.2" text-anchor="middle" fill="#262626"  stroke="#262626" stroke-width="0.16" transform="translate(52.10,514.20) scale(1,1.06)">0.5 s</text>
<text x="0" y="0" font-size="9.2" text-anchor="middle" fill="#262626"  stroke="#262626" stroke-width="0.16" transform="translate(107.50,514.20) scale(1,1.06)">0.39 s</text>
<text x="0" y="0" font-size="9.2" text-anchor="middle" fill="#262626"  stroke="#262626" stroke-width="0.16" transform="translate(167.00,514.20) scale(1,1.06)">0.36 s</text>
<text x="0" y="0" font-size="9.2" text-anchor="middle" fill="#262626"  stroke="#262626" stroke-width="0.16" transform="translate(224.50,514.20) scale(1,1.06)">0.32 s</text>
<text x="0" y="0" font-size="9.2" text-anchor="middle" fill="#262626"  stroke="#262626" stroke-width="0.16" transform="translate(282.80,514.20) scale(1,1.06)">0.3 s</text>
<text x="0" y="0" font-size="9.2" text-anchor="middle" fill="#262626"  stroke="#262626" stroke-width="0.16" transform="translate(80.50,538.20) scale(1,1.06)">forget</text>
<text x="0" y="0" font-size="9.2" text-anchor="middle" fill="#262626"  stroke="#262626" stroke-width="0.16" transform="translate(142.30,538.20) scale(1,1.06)">forget</text>
<text x="0" y="0" font-size="9.2" text-anchor="middle" fill="#262626"  stroke="#262626" stroke-width="0.16" transform="translate(201.50,538.20) scale(1,1.06)">forget</text>
<text x="0" y="0" font-size="9.2" text-anchor="middle" fill="#262626"  stroke="#262626" stroke-width="0.16" transform="translate(262.90,538.20) scale(1,1.06)">forget</text>
<text x="0" y="0" font-size="9.2" text-anchor="middle" fill="#262626"  stroke="#262626" stroke-width="0.16" transform="translate(318.30,538.20) scale(1,1.06)">forget</text>
<text x="0" y="0" font-size="17" text-anchor="start" fill="#1a1a1a"  stroke="#1a1a1a" stroke-width="0.16" transform="translate(354.70,366.80) scale(1,1.06)">(h)</text>
<polyline points="530.40,394.14 530.99,394.41 531.58,394.80 532.17,395.39 532.76,396.19 533.34,397.11 533.93,398.04 534.52,398.84 535.11,399.43 535.70,399.82 536.29,400.08 536.88,400.35 537.47,400.74 538.05,401.33 538.64,402.13 539.23,403.05 539.82,403.97 540.41,404.77 541.00,405.37 541.59,405.76 542.18,406.02 542.76,406.28 543.35,406.67 543.94,407.27 544.53,408.07 545.12,408.99 545.71,409.92 546.30,410.72 546.89,411.31 547.48,411.71 548.06,411.97 548.65,412.24 549.24,412.63 549.83,413.23 550.42,414.03 551.01,414.96 551.60,415.88 552.19,416.69 552.77,417.28 553.36,417.68 553.95,417.95 554.54,418.22 555.13,418.61 555.72,419.21 556.31,420.02 556.90,420.95 557.48,421.88 558.07,422.69 558.66,423.29 559.25,423.69 559.84,423.96 560.43,424.25 561.02,424.65 561.61,425.27 562.20,426.08 562.78,427.03 563.37,427.98 563.96,428.81 564.55,429.43 565.14,429.85 565.73,430.15 566.32,430.45 566.91,430.88 567.49,431.51 568.08,432.35 568.67,433.31 569.26,434.28 569.85,435.12 570.44,435.75 571.03,436.18 571.62,436.49 572.20,436.79 572.79,437.22 573.38,437.86 573.97,438.69 574.56,439.66 575.15,440.62 575.74,441.45 576.33,442.08 576.92,442.50 577.50,442.80 578.09,443.09 578.68,443.50 579.27,444.12 579.86,444.94 580.45,445.89 581.04,446.83 581.63,447.64 582.21,448.24 582.80,448.64 583.39,448.91 583.98,449.17 584.57,449.55 585.16,450.14 585.75,450.92 586.34,451.84 586.92,452.73 587.51,453.50 588.10,454.06 588.69,454.42 589.28,454.65 589.87,454.86 590.46,455.20 591.05,455.74 591.64,456.49 592.22,457.36 592.81,458.22 593.40,458.96 593.99,459.49 594.58,459.82 595.17,460.02 595.76,460.20 596.35,460.52 596.93,461.04 597.52,461.76 598.11,462.61 598.70,463.44 599.29,464.15 599.88,464.65 600.47,464.96 601.06,465.13 601.64,465.29 602.23,465.58 602.82,466.07 603.41,466.77 604.00,467.59 604.59,468.40 605.18,469.08 605.77,469.56 606.36,469.83 606.94,469.98 607.53,470.12 608.12,470.38 608.71,470.84 609.30,471.51 609.89,472.30 610.48,473.09 611.07,473.74 611.65,474.19 612.24,474.44 612.83,474.56 613.42,474.67 614.01,474.90 614.60,475.33 615.19,475.98 615.78,476.74 616.36,477.49 616.95,478.12 617.54,478.54 618.13,478.76 618.72,478.85 619.31,478.93 619.90,479.13 620.49,479.53 621.08,480.14 621.66,480.88 622.25,481.59 622.84,482.18 623.43,482.57 624.02,482.75 624.61,482.80 625.20,482.84 625.79,483.00 626.37,483.37 626.96,483.94 627.55,484.64 628.14,485.33 628.73,485.88 629.32,486.24 629.91,486.39 630.50,486.41 631.08,486.42 631.67,486.56 632.26,486.90 632.85,487.45 633.44,488.12 634.03,488.78 634.62,489.32 635.21,489.65 635.80,489.77 636.38,489.78 636.97,489.77 637.56,489.89 638.15,490.21 638.74,490.74 639.33,491.39 639.92,492.04 640.51,492.57 641.09,492.88 641.68,493.00 642.27,492.99 642.86,492.97 643.45,493.08 644.04,493.40 644.63,493.92 645.22,494.57 645.80,495.21 646.39,495.73 646.98,496.05 647.57,496.16 648.16,496.14 648.75,496.12 649.34,496.22 649.93,496.53 650.52,497.05 651.10,497.68 651.69,498.32 652.28,498.82 652.87,499.12 653.46,499.21 654.05,499.18 654.64,499.14 655.23,499.23 655.81,499.52 656.40,500.01 656.99,500.63 657.58,501.25 658.17,501.75 658.76,502.03 659.35,502.11 659.94,502.07 660.52,502.02 661.11,502.10 661.70,502.38 662.29,502.87 662.88,503.48 663.47,504.09 664.06,504.57 664.65,504.85 665.24,504.93 665.82,504.87 666.41,504.82 667.00,504.89 667.59,505.17 668.18,505.65 668.77,506.26 669.36,506.86 669.95,507.34 670.53,507.62 671.12,507.69 671.71,507.63 672.30,507.58 672.89,507.65 673.48,507.92 674.07,508.40 674.66,509.01 675.24,509.62 675.83,510.10 676.42,510.38 677.01,510.45 677.60,510.40" fill="none" stroke="#b8f4cc" stroke-width="1.2" stroke-linejoin="round" />
<polyline points="383.20,514.73 386.44,511.26 389.09,511.79 392.33,508.29 394.98,508.85 398.21,505.32 400.86,505.91 404.10,502.35 406.75,502.97 409.99,499.39 412.64,500.03 415.88,494.69 418.53,495.36 421.77,489.97 424.42,490.70 427.65,485.26 430.30,486.03 433.54,480.55 436.19,481.36 439.43,475.83 442.08,476.69 445.32,470.34 447.97,471.25 451.21,464.84 453.86,465.80 457.09,459.34 459.74,460.35 462.98,453.84 465.63,454.91 468.87,448.34 471.52,449.46 474.76,443.01 477.41,444.19 480.65,437.69 483.30,438.92 486.53,432.36 489.18,433.64 492.42,427.03 495.07,428.37 498.31,421.71 500.96,423.10 504.20,415.86 506.85,417.31 510.09,410.01 512.74,411.52 515.97,404.17 518.62,405.72 521.86,398.32 524.51,399.93 527.75,392.47 530.40,394.14" fill="none" stroke="#f0962e" stroke-width="1.4" stroke-linejoin="round" />
<line x1="495.80" y1="392.70" x2="563.40" y2="392.70" stroke="#333" stroke-width="0.8" stroke-dasharray="2.4,1.8"/>
<line x1="495.80" y1="426.10" x2="563.40" y2="426.10" stroke="#333" stroke-width="0.8" stroke-dasharray="2.4,1.8"/>
<line x1="495.80" y1="392.70" x2="495.80" y2="426.10" stroke="#333" stroke-width="0.8" stroke-dasharray="2.4,1.8"/>
<line x1="529.80" y1="392.70" x2="529.80" y2="426.10" stroke="#333" stroke-width="0.8" stroke-dasharray="2.4,1.8"/>
<line x1="563.40" y1="392.70" x2="563.40" y2="426.10" stroke="#333" stroke-width="0.8" stroke-dasharray="2.4,1.8"/>
<line x1="463.20" y1="390.40" x2="495.80" y2="392.70" stroke="#333" stroke-width="0.8" stroke-dasharray="2.4,1.8"/>
<line x1="463.20" y1="439.80" x2="495.80" y2="426.10" stroke="#333" stroke-width="0.8" stroke-dasharray="2.4,1.8"/>
<line x1="563.40" y1="392.70" x2="600.50" y2="390.60" stroke="#333" stroke-width="0.8" stroke-dasharray="2.4,1.8"/>
<line x1="563.40" y1="426.10" x2="597.00" y2="437.80" stroke="#333" stroke-width="0.8" stroke-dasharray="2.4,1.8"/>
<rect x="383.2" y="385.6" width="294.59999999999997" height="151.60000000000002" fill="none" stroke="#262626" stroke-width="1.3"/>
<line x1="383.20" y1="537.20" x2="386.40" y2="537.20" stroke="#262626" stroke-width="1" />
<line x1="677.80" y1="537.20" x2="674.60" y2="537.20" stroke="#262626" stroke-width="1" />
<text x="0" y="0" font-size="9.2" text-anchor="end" fill="#262626"  stroke="#262626" stroke-width="0.16" transform="translate(378.50,540.50) scale(1,1.06)">0</text>
<line x1="383.20" y1="515.59" x2="385.20" y2="515.59" stroke="#262626" stroke-width="1" />
<line x1="677.80" y1="515.59" x2="675.80" y2="515.59" stroke="#262626" stroke-width="1" />
<line x1="383.20" y1="493.98" x2="386.40" y2="493.98" stroke="#262626" stroke-width="1" />
<line x1="677.80" y1="493.98" x2="674.60" y2="493.98" stroke="#262626" stroke-width="1" />
<text x="0" y="0" font-size="9.2" text-anchor="end" fill="#262626"  stroke="#262626" stroke-width="0.16" transform="translate(378.50,497.28) scale(1,1.06)">100</text>
<line x1="383.20" y1="472.37" x2="385.20" y2="472.37" stroke="#262626" stroke-width="1" />
<line x1="677.80" y1="472.37" x2="675.80" y2="472.37" stroke="#262626" stroke-width="1" />
<line x1="383.20" y1="450.76" x2="386.40" y2="450.76" stroke="#262626" stroke-width="1" />
<line x1="677.80" y1="450.76" x2="674.60" y2="450.76" stroke="#262626" stroke-width="1" />
<text x="0" y="0" font-size="9.2" text-anchor="end" fill="#262626"  stroke="#262626" stroke-width="0.16" transform="translate(378.50,454.06) scale(1,1.06)">200</text>
<line x1="383.20" y1="429.15" x2="385.20" y2="429.15" stroke="#262626" stroke-width="1" />
<line x1="677.80" y1="429.15" x2="675.80" y2="429.15" stroke="#262626" stroke-width="1" />
<line x1="383.20" y1="407.54" x2="386.40" y2="407.54" stroke="#262626" stroke-width="1" />
<line x1="677.80" y1="407.54" x2="674.60" y2="407.54" stroke="#262626" stroke-width="1" />
<text x="0" y="0" font-size="9.2" text-anchor="end" fill="#262626"  stroke="#262626" stroke-width="0.16" transform="translate(378.50,410.84) scale(1,1.06)">300</text>
<line x1="383.20" y1="385.93" x2="385.20" y2="385.93" stroke="#262626" stroke-width="1" />
<line x1="677.80" y1="385.93" x2="675.80" y2="385.93" stroke="#262626" stroke-width="1" />
<line x1="383.20" y1="537.20" x2="383.20" y2="534.00" stroke="#262626" stroke-width="1" />
<text x="0" y="0" font-size="9.2" text-anchor="middle" fill="#262626"  stroke="#262626" stroke-width="0.16" transform="translate(383.20,548.90) scale(1,1.06)">4.0</text>
<line x1="412.64" y1="537.20" x2="412.64" y2="535.20" stroke="#262626" stroke-width="1" />
<line x1="442.08" y1="537.20" x2="442.08" y2="534.00" stroke="#262626" stroke-width="1" />
<text x="0" y="0" font-size="9.2" text-anchor="middle" fill="#262626"  stroke="#262626" stroke-width="0.16" transform="translate(442.08,548.90) scale(1,1.06)">4.2</text>
<line x1="471.52" y1="537.20" x2="471.52" y2="535.20" stroke="#262626" stroke-width="1" />
<line x1="500.96" y1="537.20" x2="500.96" y2="534.00" stroke="#262626" stroke-width="1" />
<text x="0" y="0" font-size="9.2" text-anchor="middle" fill="#262626"  stroke="#262626" stroke-width="0.16" transform="translate(500.96,548.90) scale(1,1.06)">4.4</text>
<line x1="530.40" y1="537.20" x2="530.40" y2="535.20" stroke="#262626" stroke-width="1" />
<line x1="559.84" y1="537.20" x2="559.84" y2="534.00" stroke="#262626" stroke-width="1" />
<text x="0" y="0" font-size="9.2" text-anchor="middle" fill="#262626"  stroke="#262626" stroke-width="0.16" transform="translate(559.84,548.90) scale(1,1.06)">4.6</text>
<line x1="589.28" y1="537.20" x2="589.28" y2="535.20" stroke="#262626" stroke-width="1" />
<line x1="618.72" y1="537.20" x2="618.72" y2="534.00" stroke="#262626" stroke-width="1" />
<text x="0" y="0" font-size="9.2" text-anchor="middle" fill="#262626"  stroke="#262626" stroke-width="0.16" transform="translate(618.72,548.90) scale(1,1.06)">4.8</text>
<line x1="648.16" y1="537.20" x2="648.16" y2="535.20" stroke="#262626" stroke-width="1" />
<line x1="677.60" y1="537.20" x2="677.60" y2="534.00" stroke="#262626" stroke-width="1" />
<text x="0" y="0" font-size="9.2" text-anchor="middle" fill="#262626"  stroke="#262626" stroke-width="0.16" transform="translate(676.60,548.90) scale(1,1.06)">5.0</text>
<text x="0" y="0" font-size="9.6" text-anchor="middle" fill="#262626"  stroke="#262626" stroke-width="0.16" transform="translate(530.50,561.50) scale(1,1.06)">Time (s)</text>
<text font-size="10.0" fill="#262626" text-anchor="middle" transform="translate(358.2,460.6) rotate(-90) scale(1,1.06)" stroke="#262626" stroke-width="0.16">&#916;I<tspan font-size="7.5" dy="1.9">PSC</tspan><tspan dy="-1.9"> (&#956;A)</tspan></text>
<rect x="413.3" y="390.4" width="49.90" height="49.40" fill="#fff"/>
<rect x="414.30" y="390.4" width="5.09" height="49.40" fill="#f8e8da"/>
<rect x="424.28" y="390.4" width="5.09" height="49.40" fill="#f8e8da"/>
<rect x="434.26" y="390.4" width="5.09" height="49.40" fill="#f8e8da"/>
<rect x="444.24" y="390.4" width="5.09" height="49.40" fill="#f8e8da"/>
<rect x="454.22" y="390.4" width="5.09" height="49.40" fill="#f8e8da"/>
<clipPath id="ci413"><rect x="413.3" y="390.4" width="49.90" height="49.40"/></clipPath>
<polyline points="413.30,432.99 419.29,424.47 424.28,426.74 429.27,416.52 434.26,418.79 439.25,409.42 444.24,411.41 449.23,402.04 454.22,404.03 459.21,394.37 463.20,395.51" fill="none" stroke="#f0962e" stroke-width="1.2" stroke-linejoin="round" clip-path="url(#ci413)"/>
<rect x="413.3" y="390.4" width="49.90" height="49.40" fill="none" stroke="#262626" stroke-width="0.9"/>
<line x1="413.30" y1="439.80" x2="415.60" y2="439.80" stroke="#262626" stroke-width="0.7" />
<line x1="463.20" y1="439.80" x2="460.90" y2="439.80" stroke="#262626" stroke-width="0.7" />
<text x="0" y="0" font-size="7.2" text-anchor="end" fill="#262626"  stroke="#262626" stroke-width="0.16" transform="translate(411.10,442.30) scale(1,1.06)">250</text>
<line x1="413.30" y1="432.70" x2="414.70" y2="432.70" stroke="#262626" stroke-width="0.7" />
<line x1="463.20" y1="432.70" x2="461.80" y2="432.70" stroke="#262626" stroke-width="0.7" />
<line x1="413.30" y1="425.60" x2="415.60" y2="425.60" stroke="#262626" stroke-width="0.7" />
<line x1="463.20" y1="425.60" x2="460.90" y2="425.60" stroke="#262626" stroke-width="0.7" />
<text x="0" y="0" font-size="7.2" text-anchor="end" fill="#262626"  stroke="#262626" stroke-width="0.16" transform="translate(411.10,428.10) scale(1,1.06)">275</text>
<line x1="413.30" y1="418.51" x2="414.70" y2="418.51" stroke="#262626" stroke-width="0.7" />
<line x1="463.20" y1="418.51" x2="461.80" y2="418.51" stroke="#262626" stroke-width="0.7" />
<line x1="413.30" y1="411.41" x2="415.60" y2="411.41" stroke="#262626" stroke-width="0.7" />
<line x1="463.20" y1="411.41" x2="460.90" y2="411.41" stroke="#262626" stroke-width="0.7" />
<text x="0" y="0" font-size="7.2" text-anchor="end" fill="#262626"  stroke="#262626" stroke-width="0.16" transform="translate(411.10,413.91) scale(1,1.06)">300</text>
<line x1="413.30" y1="404.31" x2="414.70" y2="404.31" stroke="#262626" stroke-width="0.7" />
<line x1="463.20" y1="404.31" x2="461.80" y2="404.31" stroke="#262626" stroke-width="0.7" />
<line x1="413.30" y1="397.21" x2="415.60" y2="397.21" stroke="#262626" stroke-width="0.7" />
<line x1="463.20" y1="397.21" x2="460.90" y2="397.21" stroke="#262626" stroke-width="0.7" />
<text x="0" y="0" font-size="7.2" text-anchor="end" fill="#262626"  stroke="#262626" stroke-width="0.16" transform="translate(411.10,399.71) scale(1,1.06)">325</text>
<line x1="413.30" y1="439.80" x2="413.30" y2="437.50" stroke="#262626" stroke-width="0.7" />
<text x="0" y="0" font-size="7.2" text-anchor="middle" fill="#262626"  stroke="#262626" stroke-width="0.16" transform="translate(413.30,448.20) scale(1,1.06)">4.40</text>
<line x1="425.78" y1="439.80" x2="425.78" y2="438.40" stroke="#262626" stroke-width="0.7" />
<line x1="438.25" y1="439.80" x2="438.25" y2="437.50" stroke="#262626" stroke-width="0.7" />
<text x="0" y="0" font-size="7.2" text-anchor="middle" fill="#262626"  stroke="#262626" stroke-width="0.16" transform="translate(438.25,448.20) scale(1,1.06)">4.45</text>
<line x1="450.73" y1="439.80" x2="450.73" y2="438.40" stroke="#262626" stroke-width="0.7" />
<line x1="463.20" y1="439.80" x2="463.20" y2="437.50" stroke="#262626" stroke-width="0.7" />
<text x="0" y="0" font-size="7.2" text-anchor="middle" fill="#262626"  stroke="#262626" stroke-width="0.16" transform="translate(463.20,448.20) scale(1,1.06)">4.50</text>
<text x="0" y="0" font-size="7.2" text-anchor="middle" fill="#262626"  stroke="#262626" stroke-width="0.16" transform="translate(438.25,458.40) scale(1,1.06)">Time (s)</text>
<text font-size="7.2" fill="#262626" text-anchor="middle" transform="translate(393.6,415.6) rotate(-90) scale(1,1.06)" stroke="#262626" stroke-width="0.16">&#916;I<tspan font-size="5.2" dy="1.4">PSC</tspan><tspan dy="-1.4"> (&#956;A)</tspan></text>
<rect x="613.2" y="390.1" width="49.40" height="49.40" fill="#fff"/>
<rect x="614.19" y="390.1" width="5.04" height="49.40" fill="#e4f9ea"/>
<rect x="624.07" y="390.1" width="5.04" height="49.40" fill="#e4f9ea"/>
<rect x="633.95" y="390.1" width="5.04" height="49.40" fill="#e4f9ea"/>
<rect x="643.83" y="390.1" width="5.04" height="49.40" fill="#e4f9ea"/>
<rect x="653.71" y="390.1" width="5.04" height="49.40" fill="#e4f9ea"/>
<clipPath id="ci613"><rect x="613.2" y="390.1" width="49.40" height="49.40"/></clipPath>
<polyline points="613.20,392.46 613.69,392.75 614.19,393.16 614.68,393.69 615.18,394.33 615.67,395.07 616.16,395.88 616.66,396.72 617.15,397.55 617.65,398.34 618.14,399.04 618.63,399.65 619.13,400.14 619.62,400.50 620.12,400.75 620.61,400.91 621.10,401.00 621.60,401.06 622.09,401.13 622.59,401.24 623.08,401.43 623.57,401.72 624.07,402.13 624.56,402.66 625.06,403.31 625.55,404.05 626.04,404.85 626.54,405.69 627.03,406.52 627.53,407.31 628.02,408.02 628.51,408.62 629.01,409.11 629.50,409.47 630.00,409.73 630.49,409.88 630.98,409.97 631.48,410.03 631.97,410.10 632.47,410.21 632.96,410.40 633.45,410.69 633.95,411.10 634.44,411.63 634.94,412.28 635.43,413.02 635.92,413.82 636.42,414.66 636.91,415.49 637.41,416.28 637.90,416.99 638.39,417.59 638.89,418.08 639.38,418.45 639.88,418.70 640.37,418.85 640.86,418.94 641.36,419.00 641.85,419.07 642.35,419.18 642.84,419.37 643.33,419.66 643.83,420.07 644.32,420.60 644.82,421.25 645.31,421.99 645.80,422.80 646.30,423.63 646.79,424.46 647.29,425.25 647.78,425.96 648.27,426.56 648.77,427.05 649.26,427.42 649.76,427.67 650.25,427.82 650.74,427.92 651.24,427.98 651.73,428.04 652.23,428.15 652.72,428.34 653.21,428.63 653.71,429.04 654.20,429.57 654.70,430.22 655.19,430.96 655.68,431.77 656.18,432.60 656.67,433.44 657.17,434.22 657.66,434.93 658.15,435.54 658.65,436.02 659.14,436.39 659.64,436.64 660.13,436.80 660.62,436.89 661.12,436.95 661.61,437.01 662.11,437.12 662.60,437.31" fill="none" stroke="#88e8a8" stroke-width="1.2" stroke-linejoin="round" clip-path="url(#ci613)"/>
<rect x="613.2" y="390.1" width="49.40" height="49.40" fill="none" stroke="#262626" stroke-width="0.9"/>
<line x1="613.20" y1="439.50" x2="615.50" y2="439.50" stroke="#262626" stroke-width="0.7" />
<line x1="662.60" y1="439.50" x2="660.30" y2="439.50" stroke="#262626" stroke-width="0.7" />
<text x="0" y="0" font-size="7.2" text-anchor="end" fill="#262626"  stroke="#262626" stroke-width="0.16" transform="translate(611.00,442.00) scale(1,1.06)">250</text>
<line x1="613.20" y1="432.40" x2="614.60" y2="432.40" stroke="#262626" stroke-width="0.7" />
<line x1="662.60" y1="432.40" x2="661.20" y2="432.40" stroke="#262626" stroke-width="0.7" />
<line x1="613.20" y1="425.30" x2="615.50" y2="425.30" stroke="#262626" stroke-width="0.7" />
<line x1="662.60" y1="425.30" x2="660.30" y2="425.30" stroke="#262626" stroke-width="0.7" />
<text x="0" y="0" font-size="7.2" text-anchor="end" fill="#262626"  stroke="#262626" stroke-width="0.16" transform="translate(611.00,427.80) scale(1,1.06)">275</text>
<line x1="613.20" y1="418.21" x2="614.60" y2="418.21" stroke="#262626" stroke-width="0.7" />
<line x1="662.60" y1="418.21" x2="661.20" y2="418.21" stroke="#262626" stroke-width="0.7" />
<line x1="613.20" y1="411.11" x2="615.50" y2="411.11" stroke="#262626" stroke-width="0.7" />
<line x1="662.60" y1="411.11" x2="660.30" y2="411.11" stroke="#262626" stroke-width="0.7" />
<text x="0" y="0" font-size="7.2" text-anchor="end" fill="#262626"  stroke="#262626" stroke-width="0.16" transform="translate(611.00,413.61) scale(1,1.06)">300</text>
<line x1="613.20" y1="404.01" x2="614.60" y2="404.01" stroke="#262626" stroke-width="0.7" />
<line x1="662.60" y1="404.01" x2="661.20" y2="404.01" stroke="#262626" stroke-width="0.7" />
<line x1="613.20" y1="396.91" x2="615.50" y2="396.91" stroke="#262626" stroke-width="0.7" />
<line x1="662.60" y1="396.91" x2="660.30" y2="396.91" stroke="#262626" stroke-width="0.7" />
<text x="0" y="0" font-size="7.2" text-anchor="end" fill="#262626"  stroke="#262626" stroke-width="0.16" transform="translate(611.00,399.41) scale(1,1.06)">325</text>
<line x1="613.20" y1="439.50" x2="613.20" y2="437.20" stroke="#262626" stroke-width="0.7" />
<text x="0" y="0" font-size="7.2" text-anchor="middle" fill="#262626"  stroke="#262626" stroke-width="0.16" transform="translate(613.20,447.90) scale(1,1.06)">4.50</text>
<line x1="625.55" y1="439.50" x2="625.55" y2="438.10" stroke="#262626" stroke-width="0.7" />
<line x1="637.90" y1="439.50" x2="637.90" y2="437.20" stroke="#262626" stroke-width="0.7" />
<text x="0" y="0" font-size="7.2" text-anchor="middle" fill="#262626"  stroke="#262626" stroke-width="0.16" transform="translate(637.90,447.90) scale(1,1.06)">4.55</text>
<line x1="650.25" y1="439.50" x2="650.25" y2="438.10" stroke="#262626" stroke-width="0.7" />
<line x1="662.60" y1="439.50" x2="662.60" y2="437.20" stroke="#262626" stroke-width="0.7" />
<text x="0" y="0" font-size="7.2" text-anchor="middle" fill="#262626"  stroke="#262626" stroke-width="0.16" transform="translate(662.60,447.90) scale(1,1.06)">4.60</text>
<text x="0" y="0" font-size="7.2" text-anchor="middle" fill="#262626"  stroke="#262626" stroke-width="0.16" transform="translate(637.90,458.10) scale(1,1.06)">Time (s)</text>
<text font-size="7.2" fill="#262626" text-anchor="middle" transform="translate(593.2,415.3) rotate(-90) scale(1,1.06)" stroke="#262626" stroke-width="0.16">&#916;I<tspan font-size="5.2" dy="1.4">PSC</tspan><tspan dy="-1.4"> (&#956;A)</tspan></text>
</svg></body></html>
